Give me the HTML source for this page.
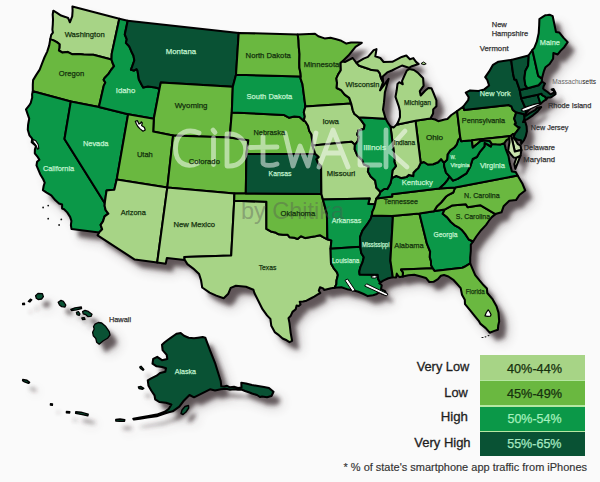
<!DOCTYPE html>
<html><head><meta charset="utf-8"><style>
html,body{margin:0;padding:0;background:#fafafa;}
body{width:600px;height:482px;overflow:hidden;position:relative;font-family:"Liberation Sans",sans-serif;}
svg{position:absolute;left:0;top:0;}
</style></head><body>
<svg width="600" height="482" viewBox="0 0 600 482">
<defs><filter id="sh" x="-10%" y="-10%" width="130%" height="130%"><feGaussianBlur stdDeviation="2.3"/></filter>
<filter id="sh2" x="-10%" y="-10%" width="130%" height="130%"><feGaussianBlur stdDeviation="6"/></filter></defs>
<g filter="url(#sh2)" transform="translate(9,10)" fill="#3a2e30" opacity="0.3"><path d="M72.4,6.4L119.3,18.7L111.7,53.9L111.5,59.6L93.3,54.8L89.3,54.7L83.7,54.6L78.1,54.1L72.4,54.3L67.5,51.9L62.5,52.6L58.9,50.5L59.4,47.6L59.5,44.2L57.2,42.4L54.1,40.6L50.3,39.1L51.2,34.9L52.9,32.6L52.4,29.7L52.8,24.3L53.0,19.4L52.7,14.5L53.3,10.7L56.6,12.6L61.1,15.6L65.3,16.9L68.1,18.0L68.9,19.9L69.9,22.3L72.2,16.4L72.6,10.7L72.4,6.4Z M50.3,39.1L54.1,40.6L57.2,42.4L59.5,44.2L59.4,47.6L58.9,50.5L62.5,52.6L67.5,51.9L72.4,54.3L78.1,54.1L83.7,54.6L89.3,54.7L93.3,54.8L111.5,59.6L112.7,63.2L114.1,66.2L111.0,70.0L108.5,73.9L104.6,78.0L103.6,79.7L105.3,82.6L103.7,85.9L98.9,107.0L70.8,101.6L32.8,91.2L32.8,84.7L33.1,80.1L36.1,75.1L39.7,69.6L42.0,63.6L44.4,57.5L47.2,51.6L49.2,45.4L50.3,39.1Z M32.8,91.2L70.8,101.6L64.5,139.0L104.8,203.2L104.6,205.8L105.6,210.0L108.3,213.7L104.6,216.4L103.0,221.4L100.6,224.9L102.2,229.3L99.2,232.4L71.5,229.1L70.9,225.1L71.4,220.9L70.1,216.9L67.2,212.4L64.1,209.2L62.1,208.5L62.1,204.4L59.0,203.5L55.4,200.3L51.3,195.3L46.6,192.6L42.9,190.2L43.7,185.8L44.7,182.7L43.1,179.0L40.2,174.2L36.5,165.4L37.1,161.7L39.4,159.8L38.0,157.4L34.8,153.4L34.9,149.6L36.0,146.1L34.3,144.4L31.7,142.3L32.2,138.7L29.4,135.3L27.8,129.7L28.1,124.7L29.2,118.6L27.7,114.3L26.0,109.4L29.0,105.7L30.7,103.0L32.2,97.6L32.1,94.3L32.8,91.2Z M70.8,101.6L98.9,107.0L128.1,114.3L116.7,179.6L114.3,189.8L110.4,190.1L106.6,190.5L105.8,195.6L105.1,200.7L104.8,203.2L64.5,139.0L70.8,101.6Z M119.3,18.7L127.7,20.7L124.8,34.5L126.8,39.3L125.9,42.9L129.1,46.2L131.3,51.2L133.5,55.7L134.3,60.5L132.3,66.2L130.9,69.8L133.9,70.6L136.5,69.1L137.5,70.7L138.9,79.5L141.5,84.5L143.2,87.4L148.0,86.4L155.3,87.6L159.5,88.8L153.8,118.8L128.1,114.3L98.9,107.0L103.7,85.9L105.3,82.6L103.6,79.7L104.6,78.0L108.5,73.9L111.0,70.0L114.1,66.2L112.7,63.2L111.5,59.6L111.7,53.9L119.3,18.7Z M127.7,20.7L238.7,32.9L236.0,74.7L232.8,86.8L160.8,82.6L159.5,88.8L155.3,87.6L148.0,86.4L143.2,87.4L141.5,84.5L138.9,79.5L137.5,70.7L136.5,69.1L133.9,70.6L130.9,69.8L132.3,66.2L134.3,60.5L133.5,55.7L131.3,51.2L129.1,46.2L125.9,42.9L126.8,39.3L124.8,34.5L127.7,20.7Z M159.5,88.8L160.8,82.6L232.8,86.8L231.8,112.4L229.7,137.6L173.1,135.5L153.2,131.5L153.8,118.8L159.5,88.8Z M128.1,114.3L153.8,118.8L153.2,131.5L173.1,135.5L167.3,187.6L116.7,179.6L128.1,114.3Z M173.1,135.5L229.7,137.6L248.3,140.2L246.4,154.0L245.8,193.4L234.4,193.4L167.3,187.6L173.1,135.5Z M116.7,179.6L167.3,187.6L157.2,262.5L134.8,259.6L97.6,235.3L99.2,232.4L102.2,229.3L100.6,224.9L103.0,221.4L104.6,216.4L108.3,213.7L105.6,210.0L104.6,205.8L104.8,203.2L105.1,200.7L105.8,195.6L106.6,190.5L110.4,190.1L114.3,189.8L116.7,179.6Z M167.3,187.6L234.4,193.4L234.2,200.7L231.2,255.5L184.4,257.0L184.7,259.9L166.9,258.0L165.7,263.8L157.2,262.5L167.3,187.6Z M234.2,200.7L266.4,201.7L266.4,228.9L270.8,231.4L275.2,232.4L278.6,234.3L283.0,234.8L287.5,234.7L289.7,237.3L294.2,237.8L297.6,239.0L300.9,236.2L305.4,238.1L311.0,237.1L315.5,236.2L319.9,235.2L323.1,237.2L327.4,239.3L331.4,240.4L330.6,248.7L331.0,263.4L333.6,268.1L337.0,272.4L337.9,275.0L336.5,280.6L336.4,284.1L334.6,287.8L331.2,288.3L324.1,290.0L323.1,288.4L320.0,287.3L318.8,290.7L320.3,293.0L318.2,294.2L314.2,296.7L311.6,298.0L306.5,300.7L303.0,301.5L299.7,301.8L300.5,304.4L298.7,306.0L296.6,305.5L295.7,309.2L292.5,311.9L290.8,315.7L288.5,318.1L289.5,323.1L290.7,333.1L292.1,340.8L289.5,342.1L286.7,340.3L282.6,338.5L278.1,334.6L274.7,332.1L271.3,325.8L270.4,318.9L267.0,315.4L262.5,309.2L259.0,302.3L254.5,293.3L253.4,289.8L246.0,286.8L235.9,285.8L230.7,287.9L228.3,293.7L223.7,298.2L216.3,295.6L209.6,292.6L202.2,287.5L201.1,280.5L199.1,274.0L193.3,268.6L187.4,264.1L184.7,259.9L184.4,257.0L231.2,255.5L234.2,200.7Z M234.4,193.4L245.8,193.4L321.4,193.9L322.9,199.6L326.9,213.9L327.4,239.3L323.1,237.2L319.9,235.2L315.5,236.2L311.0,237.1L305.4,238.1L300.9,236.2L297.6,239.0L294.2,237.8L289.7,237.3L287.5,234.7L283.0,234.8L278.6,234.3L275.2,232.4L270.8,231.4L266.4,228.9L266.4,201.7L234.2,200.7L234.4,193.4Z M246.4,154.0L315.2,153.7L318.7,157.0L316.5,159.3L318.2,163.3L321.1,165.9L321.4,193.9L245.8,193.4L246.4,154.0Z M231.8,112.4L283.7,114.9L288.9,117.7L294.3,116.5L299.5,117.1L303.7,120.8L305.2,121.3L308.0,125.7L309.3,130.9L311.5,134.6L312.1,139.9L312.5,145.5L313.8,149.5L315.2,153.7L246.4,154.0L248.3,140.2L229.7,137.6L231.8,112.4Z M236.0,74.7L300.8,76.6L300.5,78.4L302.5,84.4L305.4,106.5L303.8,112.2L304.8,116.4L303.7,120.8L299.5,117.1L294.3,116.5L288.9,117.7L283.7,114.9L231.8,112.4L232.8,86.8L236.0,74.7Z M238.7,32.9L297.7,34.5L298.5,40.1L298.8,47.1L299.5,54.1L299.3,62.4L299.4,67.9L300.5,73.2L300.8,76.6L236.0,74.7L238.7,32.9Z M297.7,34.5L315.0,33.7L318.3,36.2L324.6,38.4L330.5,37.8L336.3,39.3L341.3,40.8L346.4,43.6L351.1,42.5L357.6,42.5L361.8,42.8L355.5,46.8L348.4,55.6L342.3,61.5L340.6,63.0L340.8,70.3L338.2,74.4L336.4,78.4L337.0,82.9L336.7,88.0L341.1,90.2L344.7,94.6L349.2,97.8L351.2,103.6L305.4,106.5L302.5,84.4L300.5,78.4L300.8,76.6L300.5,73.2L299.4,67.9L299.3,62.4L299.5,54.1L298.8,47.1L298.5,40.1L297.7,34.5Z M305.4,106.5L351.2,103.6L352.8,110.3L354.2,113.7L358.6,117.3L361.4,120.6L364.6,125.2L363.9,128.9L358.4,130.6L357.1,134.5L358.8,137.1L357.8,141.0L354.9,144.8L351.6,141.8L312.5,145.5L312.1,139.9L311.5,134.6L309.3,130.9L308.0,125.7L305.2,121.3L303.7,120.8L304.8,116.4L303.8,112.2L305.4,106.5Z M312.5,145.5L351.6,141.8L354.9,144.8L354.7,149.4L357.4,155.6L362.3,160.3L363.9,164.5L368.8,166.4L367.9,171.5L370.7,176.4L375.1,180.4L376.4,187.8L380.3,191.8L379.7,194.6L376.4,198.6L375.6,201.5L375.1,204.2L368.2,204.0L369.7,198.4L322.9,199.6L321.4,193.9L321.1,165.9L318.2,163.3L316.5,159.3L318.7,157.0L315.2,153.7L313.8,149.5L312.5,145.5Z M322.9,199.6L369.7,198.4L368.2,204.0L375.1,204.2L373.9,208.4L372.4,211.7L371.8,215.4L370.7,218.8L367.3,224.2L362.5,230.7L360.0,237.2L360.2,246.7L330.6,248.7L331.4,240.4L327.4,239.3L326.9,213.9L322.9,199.6Z M330.6,248.7L360.2,246.7L361.2,252.9L363.8,257.3L362.5,262.4L360.4,267.2L359.3,271.6L359.6,274.5L377.7,274.7L378.1,278.9L380.3,282.6L379.3,283.3L381.7,285.3L381.0,289.2L385.0,291.2L386.4,294.4L382.5,293.9L379.2,292.2L376.2,294.3L373.0,295.2L367.8,296.1L363.6,294.0L358.3,291.7L353.9,290.4L348.3,289.6L341.4,287.3L334.6,287.8L336.4,284.1L336.5,280.6L337.9,275.0L337.0,272.4L333.6,268.1L331.0,263.4L330.6,248.7Z M371.8,215.4L391.8,216.0L392.9,217.3L390.4,260.5L392.8,277.2L388.4,278.2L383.2,280.6L380.3,282.6L378.1,278.9L377.7,274.7L359.6,274.5L359.3,271.6L360.4,267.2L362.5,262.4L363.8,257.3L361.2,252.9L360.2,246.7L360.0,237.2L362.5,230.7L367.3,224.2L370.7,218.8L371.8,215.4Z M391.8,216.0L419.4,213.5L426.9,243.7L430.1,251.5L429.8,257.2L431.0,261.1L431.0,264.9L432.7,268.3L401.0,269.6L403.0,272.4L402.8,276.6L400.0,277.1L398.2,276.1L396.8,273.7L396.1,277.4L392.8,277.2L390.4,260.5L392.9,217.3L391.8,216.0Z M419.4,213.5L433.9,211.3L444.6,209.6L442.7,213.8L447.2,217.4L450.9,222.0L454.4,225.1L458.5,227.3L461.6,229.7L465.1,233.9L468.8,239.5L473.1,241.5L470.8,244.6L470.8,250.9L470.2,257.4L470.2,263.3L464.5,266.8L462.4,267.8L434.5,270.9L432.7,268.3L431.0,264.9L431.0,261.1L429.8,257.2L430.1,251.5L426.9,243.7L419.4,213.5Z M401.0,269.6L432.7,268.3L434.5,270.9L462.4,267.8L464.5,266.8L470.2,263.3L472.5,268.8L475.2,275.1L479.5,280.4L483.7,285.3L486.9,288.5L487.3,293.0L492.3,298.8L496.5,306.2L498.5,312.6L499.2,321.3L498.2,325.6L497.9,329.7L494.4,330.9L489.7,332.7L485.7,328.1L480.5,323.9L478.7,320.8L474.6,315.8L470.6,310.9L465.0,304.2L464.8,299.7L462.0,294.8L460.7,288.1L456.9,283.8L453.7,280.2L448.4,276.5L444.0,275.1L440.9,275.8L437.9,279.1L433.5,281.8L429.3,282.0L425.9,277.9L420.8,276.4L414.3,274.7L408.4,275.2L402.8,276.6L403.0,272.4L401.0,269.6Z M495.4,214.1L480.2,205.2L467.7,207.3L465.8,204.2L451.9,205.6L444.6,209.6L442.7,213.8L447.2,217.4L450.9,222.0L454.4,225.1L458.5,227.3L461.6,229.7L465.1,233.9L468.8,239.5L473.1,241.5L476.3,236.5L481.1,230.2L486.1,224.9L488.9,220.7L491.8,217.1L495.4,214.1Z M517.6,175.5L455.1,187.5L453.3,192.5L448.5,194.9L446.1,196.5L441.1,202.5L436.8,206.6L433.9,211.3L444.6,209.6L451.9,205.6L465.8,204.2L467.7,207.3L480.2,205.2L495.4,214.1L501.5,212.3L503.6,206.3L509.3,200.8L516.0,200.1L519.4,195.0L525.2,190.5L522.6,184.1L517.6,175.5Z M376.4,198.6L392.2,196.6L392.1,194.2L439.3,188.6L455.1,187.5L453.3,192.5L448.5,194.9L446.1,196.5L441.1,202.5L436.8,206.6L433.9,211.3L419.4,213.5L391.8,216.0L371.8,215.4L372.4,211.7L373.9,208.4L375.1,204.2L375.6,201.5L376.4,198.6Z M439.3,188.6L392.1,194.2L392.2,196.6L376.4,198.6L379.7,194.6L380.3,191.8L384.1,189.0L387.3,189.1L390.4,183.4L391.7,178.1L396.2,176.0L401.5,178.1L406.4,177.1L409.0,174.9L413.2,176.1L413.4,172.8L416.5,169.5L418.1,168.3L420.7,163.0L423.9,162.0L427.8,164.5L433.2,164.3L438.1,162.2L441.1,159.1L444.0,162.8L444.2,166.3L446.0,172.6L449.7,176.6L447.7,179.8L444.3,184.1L439.3,188.6Z M517.6,175.5L455.1,187.5L439.3,188.6L444.3,184.1L447.7,179.8L449.7,176.6L453.0,180.6L457.7,178.9L466.5,173.3L470.2,166.8L472.7,159.0L476.9,157.0L480.1,151.6L484.5,146.3L484.6,142.9L490.9,146.5L491.7,143.9L496.4,144.3L500.7,144.4L504.3,143.2L505.7,148.8L508.5,156.1L509.8,163.6L511.9,171.6L515.7,172.1L517.6,175.5Z M449.7,176.6L446.0,172.6L444.2,166.3L444.0,162.8L447.1,159.6L447.5,154.5L450.3,150.4L454.3,147.5L456.8,144.3L458.2,140.0L460.3,137.8L461.2,141.2L471.9,140.3L472.8,147.4L477.5,143.5L480.0,141.3L484.3,140.2L489.9,141.1L491.7,143.9L490.9,146.5L484.6,142.9L484.5,146.3L480.1,151.6L476.9,157.0L472.7,159.0L470.2,166.8L466.5,173.3L457.7,178.9L453.0,180.6L449.7,176.6Z M460.3,137.8L458.2,140.0L456.8,144.3L454.3,147.5L450.3,150.4L447.5,154.5L447.1,159.6L444.0,162.8L441.1,159.1L438.1,162.2L433.2,164.3L427.8,164.5L423.9,162.0L420.7,163.0L415.5,120.8L430.4,118.4L435.1,119.5L438.2,121.2L444.6,119.4L447.4,119.0L451.4,115.0L457.1,111.1L460.3,137.8Z M396.6,124.8L393.6,127.4L390.5,126.6L394.6,158.3L394.3,161.6L395.9,166.1L392.5,170.3L391.7,178.1L396.2,176.0L401.5,178.1L406.4,177.1L409.0,174.9L413.2,176.1L413.4,172.8L416.5,169.5L418.1,168.3L420.7,163.0L415.5,120.8L396.6,124.8Z M358.6,117.3L385.6,118.8L388.4,123.7L390.5,126.6L394.6,158.3L394.3,161.6L395.9,166.1L392.5,170.3L391.7,178.1L390.4,183.4L387.3,189.1L384.1,189.0L380.3,191.8L376.4,187.8L375.1,180.4L370.7,176.4L367.9,171.5L368.8,166.4L363.9,164.5L362.3,160.3L357.4,155.6L354.7,149.4L354.9,144.8L357.8,141.0L358.8,137.1L357.1,134.5L358.4,130.6L363.9,128.9L364.6,125.2L361.4,120.6L358.6,117.3Z M336.7,88.0L337.0,82.9L336.4,78.4L338.2,74.4L340.8,70.3L340.6,63.0L342.3,61.5L344.9,62.0L349.6,59.6L352.7,58.0L356.4,62.9L359.2,65.8L368.2,68.8L371.9,70.1L377.6,70.4L379.7,73.1L381.0,78.1L383.1,82.2L380.0,90.4L383.4,85.8L388.6,78.8L384.9,92.2L384.0,102.4L383.0,109.6L385.6,118.8L358.6,117.3L354.2,113.7L352.8,110.3L351.2,103.6L349.2,97.8L344.7,94.6L341.1,90.2L336.7,88.0Z M396.6,124.8L415.5,120.8L430.4,118.4L433.1,113.5L433.2,109.4L436.4,106.2L436.4,100.3L433.5,93.0L431.4,88.2L428.4,88.0L425.1,90.7L420.7,95.5L419.8,91.2L423.6,85.9L423.1,78.1L421.5,76.5L417.7,72.6L413.9,70.0L409.1,69.1L406.8,70.6L404.0,76.6L402.0,81.1L402.8,84.3L399.3,82.2L397.5,83.9L396.7,90.3L395.5,96.8L398.7,106.1L399.9,110.9L400.0,117.2L398.1,122.1L396.6,124.8Z M356.4,62.9L359.2,65.8L368.2,68.8L371.9,70.1L377.6,70.4L379.7,73.1L381.0,78.1L383.1,82.2L382.7,76.5L387.2,72.4L391.9,70.5L395.6,68.6L402.0,65.6L408.9,67.8L411.9,66.2L418.7,64.1L416.0,61.9L413.3,58.1L409.9,59.3L406.3,55.5L401.7,56.9L392.3,61.8L383.6,62.0L380.3,58.0L375.3,56.3L376.5,49.1L373.7,50.1L371.2,53.1L367.9,56.9L363.6,58.6L356.4,62.9Z M457.1,111.1L463.3,106.5L464.2,110.1L508.8,105.1L511.5,106.5L512.8,109.9L516.2,112.5L514.2,118.6L515.9,123.2L514.7,124.2L517.6,126.7L519.7,127.4L517.8,130.0L516.7,131.6L514.5,134.1L512.8,134.1L511.2,135.8L471.9,140.3L461.2,141.2L460.3,137.8L457.1,111.1Z M516.2,112.5L512.8,109.9L511.5,106.5L508.8,105.1L464.2,110.1L463.3,106.5L468.2,100.1L468.7,97.2L465.8,92.7L470.1,90.4L478.5,91.0L484.3,89.4L489.1,85.5L487.2,79.8L485.2,77.2L489.2,71.4L493.0,64.8L498.4,61.7L511.2,59.9L512.1,66.9L513.1,73.9L514.4,79.4L516.2,79.7L519.7,89.9L521.2,98.3L526.2,110.0L525.8,113.4L525.7,115.8L529.2,113.3L535.1,110.2L537.3,107.8L541.2,107.1L537.6,111.4L532.9,115.3L526.9,119.4L524.8,120.4L524.1,119.5L524.3,118.7L524.3,117.2L523.8,114.3L516.2,112.5Z M516.2,112.5L523.8,114.3L524.3,117.2L524.3,118.7L523.9,120.3L523.0,122.1L525.3,122.0L526.6,126.5L526.9,131.3L525.7,136.4L524.0,140.2L521.2,143.8L521.0,140.3L517.8,139.8L514.5,138.0L513.7,136.9L514.5,134.1L516.7,131.6L517.8,130.0L519.7,127.4L517.6,126.7L514.7,124.2L515.9,123.2L514.2,118.6L516.2,112.5Z M511.2,135.8L512.8,134.1L514.5,134.1L513.7,136.9L514.1,138.7L516.0,140.9L517.6,143.8L520.5,145.7L521.4,150.1L514.8,151.6L511.2,135.8Z M520.5,155.7L517.5,163.3L515.3,168.9L514.3,164.0L516.4,157.7L520.5,155.7Z M521.2,98.3L537.6,94.8L540.5,103.7L536.4,105.4L531.0,107.5L528.9,109.8L525.8,113.4L526.2,110.0L521.2,98.3Z M537.6,94.8L541.5,93.7L542.1,95.2L545.4,96.9L546.2,99.4L544.0,100.8L540.5,103.7L537.6,94.8Z M519.7,89.9L527.6,88.3L538.5,85.2L541.9,81.5L545.0,83.6L543.6,86.2L543.1,88.6L544.1,89.6L547.6,92.0L550.6,94.5L554.3,92.4L553.6,90.5L551.6,89.5L553.5,89.1L555.5,92.7L555.5,94.2L551.6,97.0L550.3,97.4L547.8,97.5L546.2,99.4L545.4,96.9L542.1,95.2L541.5,93.7L537.6,94.8L521.2,98.3L519.7,89.9Z M519.7,89.9L527.6,88.3L525.3,85.2L524.4,78.4L525.3,71.0L528.1,65.8L528.7,57.0L528.5,55.5L511.2,59.9L512.1,66.9L513.1,73.9L514.4,79.4L516.2,79.7L519.7,89.9Z M527.6,88.3L538.5,85.2L541.9,81.5L541.9,78.6L538.2,75.9L532.4,50.0L528.5,55.5L528.7,57.0L528.1,65.8L525.3,71.0L524.4,78.4L525.3,85.2L527.6,88.3Z M541.9,78.6L544.0,70.8L545.5,67.2L549.6,64.0L553.1,58.7L553.4,53.1L557.7,54.4L560.5,50.9L564.2,47.2L567.7,42.1L563.6,37.9L559.2,32.4L556.0,32.1L552.7,16.2L550.0,14.8L547.5,15.1L545.1,15.3L542.7,16.8L539.4,19.0L539.2,25.0L538.7,33.2L536.8,41.7L534.3,47.8L532.4,50.0L538.2,75.9L541.9,78.6Z M471.9,140.3L509.1,136.3L509.4,138.4L506.5,140.2L504.3,143.2L500.7,144.4L496.4,144.3L491.7,143.9L489.9,141.1L484.3,140.2L480.0,141.3L477.5,143.5L472.8,147.4L471.9,140.3Z M509.1,136.3L511.2,135.8L514.8,151.6L521.4,150.1L520.5,155.7L516.4,157.7L513.7,157.6L510.9,154.3L508.2,150.9L508.7,147.0L509.5,142.3L509.4,138.4L509.1,136.3Z"/><path d="M162.0,344.7L164.7,342.3L170.0,338.3L174.7,335.0L176.7,333.7L180.7,333.0L184.0,335.7L188.7,337.7L194.0,338.3L198.0,337.7L202.7,337.0L205.3,337.7L210.0,350.3L215.3,363.7L220.7,381.0L221.3,386.3L224.0,386.6L227.0,385.8L230.0,387.3L234.0,386.8L238.0,388.0L241.5,387.6L241.3,382.8L246.0,383.5L252.0,385.0L258.0,386.0L264.0,387.0L269.0,388.0L273.5,391.8L271.5,396.0L267.0,397.2L262.0,396.5L260.0,397.0L257.0,395.0L252.0,393.5L249.5,392.5L245.0,391.0L242.0,389.8L238.0,389.8L234.0,389.3L230.0,389.8L226.0,388.8L221.0,389.3L215.0,390.5L210.0,389.3L202.0,393.3L194.0,397.3L189.5,395.0L186.0,398.5L183.3,401.3L179.3,406.7L172.7,411.3L168.7,412.3L164.7,413.6L156.7,416.2L147.3,417.6L140.0,418.8L134.0,419.6L133.3,418.8L140.0,417.6L147.3,416.2L156.7,414.6L164.7,411.8L168.5,409.2L171.4,404.5L166.0,402.7L159.3,402.0L155.2,399.3L154.5,395.3L151.2,390.5L148.5,385.8L147.8,380.4L151.2,378.4L156.6,375.7L160.0,373.0L165.3,371.7L166.0,368.3L162.0,367.0L156.6,366.3L152.5,363.6L153.2,358.9L157.2,356.8L162.0,360.2L167.3,358.9L166.7,354.8L162.6,350.1Z"/>
<path d="M139.7,367.0L141.0,366.3L143.8,369.5L143.0,370.3L140.5,368.5Z"/>
<path d="M138.4,387.0L141.0,386.5L143.8,388.3L142.5,389.2L139.0,388.5Z"/>
<path d="M182.0,410.0L185.0,406.5L188.5,405.5L188.7,408.0L186.0,412.0L183.0,414.5L181.0,413.5Z"/>
<path d="M22.8,379.4L27.0,380.2L29.6,382.4L28.5,383.4L24.5,381.8L22.6,380.6Z"/>
<path d="M50.5,403.8L52.5,404.0L52.3,405.3L50.4,405.0Z"/>
<path d="M66.5,411.4L69.8,411.6L69.6,413.0L66.4,412.7Z"/>
<path d="M75.8,411.8L81.0,412.2L88.2,414.2L87.8,415.7L81.0,414.4L75.6,413.4Z"/>
<path d="M115.8,419.5L120.0,419.0L124.8,419.6L124.5,421.2L120.0,421.3L115.8,421.0Z"/>
<path d="M22.6,303.3L24.4,303.2L24.6,304.5L22.7,304.6Z"/>
<path d="M28.3,301.5L30.4,299.2L31.8,299.8L29.8,302.0Z"/>
<path d="M35.6,295.8L38.0,293.4L42.4,293.6L43.4,296.6L41.6,299.0L38.2,299.6L36.3,298.2Z"/>
<path d="M58.2,302.3L61.0,300.4L63.4,301.4L65.8,305.0L65.0,307.0L61.7,306.7L59.5,305.0Z"/>
<path d="M70.8,309.4L75.0,307.8L81.3,307.0L81.6,308.5L76.5,309.9L71.5,310.5Z"/>
<path d="M76.4,312.4L78.4,311.6L80.0,314.0L79.2,315.3L77.0,314.6Z"/>
<path d="M81.8,318.0L84.2,317.6L85.0,319.3L82.6,319.6Z"/>
<path d="M82.6,311.6L85.0,310.3L88.3,311.4L92.0,314.2L91.0,316.4L88.0,316.7L85.8,314.7L83.2,313.8Z"/>
<path d="M95.0,324.2L98.3,322.5L101.7,323.0L105.8,326.6L109.2,331.6L110.0,335.0L107.5,338.3L103.3,340.8L99.2,344.2L96.7,342.3L95.8,338.5L93.3,335.8L92.6,332.2L94.2,329.0L93.5,326.5Z"/></g>
<g filter="url(#sh)" transform="translate(7,8)" fill="#3a2e30" opacity="0.72"><path d="M72.4,6.4L119.3,18.7L111.7,53.9L111.5,59.6L93.3,54.8L89.3,54.7L83.7,54.6L78.1,54.1L72.4,54.3L67.5,51.9L62.5,52.6L58.9,50.5L59.4,47.6L59.5,44.2L57.2,42.4L54.1,40.6L50.3,39.1L51.2,34.9L52.9,32.6L52.4,29.7L52.8,24.3L53.0,19.4L52.7,14.5L53.3,10.7L56.6,12.6L61.1,15.6L65.3,16.9L68.1,18.0L68.9,19.9L69.9,22.3L72.2,16.4L72.6,10.7L72.4,6.4Z M50.3,39.1L54.1,40.6L57.2,42.4L59.5,44.2L59.4,47.6L58.9,50.5L62.5,52.6L67.5,51.9L72.4,54.3L78.1,54.1L83.7,54.6L89.3,54.7L93.3,54.8L111.5,59.6L112.7,63.2L114.1,66.2L111.0,70.0L108.5,73.9L104.6,78.0L103.6,79.7L105.3,82.6L103.7,85.9L98.9,107.0L70.8,101.6L32.8,91.2L32.8,84.7L33.1,80.1L36.1,75.1L39.7,69.6L42.0,63.6L44.4,57.5L47.2,51.6L49.2,45.4L50.3,39.1Z M32.8,91.2L70.8,101.6L64.5,139.0L104.8,203.2L104.6,205.8L105.6,210.0L108.3,213.7L104.6,216.4L103.0,221.4L100.6,224.9L102.2,229.3L99.2,232.4L71.5,229.1L70.9,225.1L71.4,220.9L70.1,216.9L67.2,212.4L64.1,209.2L62.1,208.5L62.1,204.4L59.0,203.5L55.4,200.3L51.3,195.3L46.6,192.6L42.9,190.2L43.7,185.8L44.7,182.7L43.1,179.0L40.2,174.2L36.5,165.4L37.1,161.7L39.4,159.8L38.0,157.4L34.8,153.4L34.9,149.6L36.0,146.1L34.3,144.4L31.7,142.3L32.2,138.7L29.4,135.3L27.8,129.7L28.1,124.7L29.2,118.6L27.7,114.3L26.0,109.4L29.0,105.7L30.7,103.0L32.2,97.6L32.1,94.3L32.8,91.2Z M70.8,101.6L98.9,107.0L128.1,114.3L116.7,179.6L114.3,189.8L110.4,190.1L106.6,190.5L105.8,195.6L105.1,200.7L104.8,203.2L64.5,139.0L70.8,101.6Z M119.3,18.7L127.7,20.7L124.8,34.5L126.8,39.3L125.9,42.9L129.1,46.2L131.3,51.2L133.5,55.7L134.3,60.5L132.3,66.2L130.9,69.8L133.9,70.6L136.5,69.1L137.5,70.7L138.9,79.5L141.5,84.5L143.2,87.4L148.0,86.4L155.3,87.6L159.5,88.8L153.8,118.8L128.1,114.3L98.9,107.0L103.7,85.9L105.3,82.6L103.6,79.7L104.6,78.0L108.5,73.9L111.0,70.0L114.1,66.2L112.7,63.2L111.5,59.6L111.7,53.9L119.3,18.7Z M127.7,20.7L238.7,32.9L236.0,74.7L232.8,86.8L160.8,82.6L159.5,88.8L155.3,87.6L148.0,86.4L143.2,87.4L141.5,84.5L138.9,79.5L137.5,70.7L136.5,69.1L133.9,70.6L130.9,69.8L132.3,66.2L134.3,60.5L133.5,55.7L131.3,51.2L129.1,46.2L125.9,42.9L126.8,39.3L124.8,34.5L127.7,20.7Z M159.5,88.8L160.8,82.6L232.8,86.8L231.8,112.4L229.7,137.6L173.1,135.5L153.2,131.5L153.8,118.8L159.5,88.8Z M128.1,114.3L153.8,118.8L153.2,131.5L173.1,135.5L167.3,187.6L116.7,179.6L128.1,114.3Z M173.1,135.5L229.7,137.6L248.3,140.2L246.4,154.0L245.8,193.4L234.4,193.4L167.3,187.6L173.1,135.5Z M116.7,179.6L167.3,187.6L157.2,262.5L134.8,259.6L97.6,235.3L99.2,232.4L102.2,229.3L100.6,224.9L103.0,221.4L104.6,216.4L108.3,213.7L105.6,210.0L104.6,205.8L104.8,203.2L105.1,200.7L105.8,195.6L106.6,190.5L110.4,190.1L114.3,189.8L116.7,179.6Z M167.3,187.6L234.4,193.4L234.2,200.7L231.2,255.5L184.4,257.0L184.7,259.9L166.9,258.0L165.7,263.8L157.2,262.5L167.3,187.6Z M234.2,200.7L266.4,201.7L266.4,228.9L270.8,231.4L275.2,232.4L278.6,234.3L283.0,234.8L287.5,234.7L289.7,237.3L294.2,237.8L297.6,239.0L300.9,236.2L305.4,238.1L311.0,237.1L315.5,236.2L319.9,235.2L323.1,237.2L327.4,239.3L331.4,240.4L330.6,248.7L331.0,263.4L333.6,268.1L337.0,272.4L337.9,275.0L336.5,280.6L336.4,284.1L334.6,287.8L331.2,288.3L324.1,290.0L323.1,288.4L320.0,287.3L318.8,290.7L320.3,293.0L318.2,294.2L314.2,296.7L311.6,298.0L306.5,300.7L303.0,301.5L299.7,301.8L300.5,304.4L298.7,306.0L296.6,305.5L295.7,309.2L292.5,311.9L290.8,315.7L288.5,318.1L289.5,323.1L290.7,333.1L292.1,340.8L289.5,342.1L286.7,340.3L282.6,338.5L278.1,334.6L274.7,332.1L271.3,325.8L270.4,318.9L267.0,315.4L262.5,309.2L259.0,302.3L254.5,293.3L253.4,289.8L246.0,286.8L235.9,285.8L230.7,287.9L228.3,293.7L223.7,298.2L216.3,295.6L209.6,292.6L202.2,287.5L201.1,280.5L199.1,274.0L193.3,268.6L187.4,264.1L184.7,259.9L184.4,257.0L231.2,255.5L234.2,200.7Z M234.4,193.4L245.8,193.4L321.4,193.9L322.9,199.6L326.9,213.9L327.4,239.3L323.1,237.2L319.9,235.2L315.5,236.2L311.0,237.1L305.4,238.1L300.9,236.2L297.6,239.0L294.2,237.8L289.7,237.3L287.5,234.7L283.0,234.8L278.6,234.3L275.2,232.4L270.8,231.4L266.4,228.9L266.4,201.7L234.2,200.7L234.4,193.4Z M246.4,154.0L315.2,153.7L318.7,157.0L316.5,159.3L318.2,163.3L321.1,165.9L321.4,193.9L245.8,193.4L246.4,154.0Z M231.8,112.4L283.7,114.9L288.9,117.7L294.3,116.5L299.5,117.1L303.7,120.8L305.2,121.3L308.0,125.7L309.3,130.9L311.5,134.6L312.1,139.9L312.5,145.5L313.8,149.5L315.2,153.7L246.4,154.0L248.3,140.2L229.7,137.6L231.8,112.4Z M236.0,74.7L300.8,76.6L300.5,78.4L302.5,84.4L305.4,106.5L303.8,112.2L304.8,116.4L303.7,120.8L299.5,117.1L294.3,116.5L288.9,117.7L283.7,114.9L231.8,112.4L232.8,86.8L236.0,74.7Z M238.7,32.9L297.7,34.5L298.5,40.1L298.8,47.1L299.5,54.1L299.3,62.4L299.4,67.9L300.5,73.2L300.8,76.6L236.0,74.7L238.7,32.9Z M297.7,34.5L315.0,33.7L318.3,36.2L324.6,38.4L330.5,37.8L336.3,39.3L341.3,40.8L346.4,43.6L351.1,42.5L357.6,42.5L361.8,42.8L355.5,46.8L348.4,55.6L342.3,61.5L340.6,63.0L340.8,70.3L338.2,74.4L336.4,78.4L337.0,82.9L336.7,88.0L341.1,90.2L344.7,94.6L349.2,97.8L351.2,103.6L305.4,106.5L302.5,84.4L300.5,78.4L300.8,76.6L300.5,73.2L299.4,67.9L299.3,62.4L299.5,54.1L298.8,47.1L298.5,40.1L297.7,34.5Z M305.4,106.5L351.2,103.6L352.8,110.3L354.2,113.7L358.6,117.3L361.4,120.6L364.6,125.2L363.9,128.9L358.4,130.6L357.1,134.5L358.8,137.1L357.8,141.0L354.9,144.8L351.6,141.8L312.5,145.5L312.1,139.9L311.5,134.6L309.3,130.9L308.0,125.7L305.2,121.3L303.7,120.8L304.8,116.4L303.8,112.2L305.4,106.5Z M312.5,145.5L351.6,141.8L354.9,144.8L354.7,149.4L357.4,155.6L362.3,160.3L363.9,164.5L368.8,166.4L367.9,171.5L370.7,176.4L375.1,180.4L376.4,187.8L380.3,191.8L379.7,194.6L376.4,198.6L375.6,201.5L375.1,204.2L368.2,204.0L369.7,198.4L322.9,199.6L321.4,193.9L321.1,165.9L318.2,163.3L316.5,159.3L318.7,157.0L315.2,153.7L313.8,149.5L312.5,145.5Z M322.9,199.6L369.7,198.4L368.2,204.0L375.1,204.2L373.9,208.4L372.4,211.7L371.8,215.4L370.7,218.8L367.3,224.2L362.5,230.7L360.0,237.2L360.2,246.7L330.6,248.7L331.4,240.4L327.4,239.3L326.9,213.9L322.9,199.6Z M330.6,248.7L360.2,246.7L361.2,252.9L363.8,257.3L362.5,262.4L360.4,267.2L359.3,271.6L359.6,274.5L377.7,274.7L378.1,278.9L380.3,282.6L379.3,283.3L381.7,285.3L381.0,289.2L385.0,291.2L386.4,294.4L382.5,293.9L379.2,292.2L376.2,294.3L373.0,295.2L367.8,296.1L363.6,294.0L358.3,291.7L353.9,290.4L348.3,289.6L341.4,287.3L334.6,287.8L336.4,284.1L336.5,280.6L337.9,275.0L337.0,272.4L333.6,268.1L331.0,263.4L330.6,248.7Z M371.8,215.4L391.8,216.0L392.9,217.3L390.4,260.5L392.8,277.2L388.4,278.2L383.2,280.6L380.3,282.6L378.1,278.9L377.7,274.7L359.6,274.5L359.3,271.6L360.4,267.2L362.5,262.4L363.8,257.3L361.2,252.9L360.2,246.7L360.0,237.2L362.5,230.7L367.3,224.2L370.7,218.8L371.8,215.4Z M391.8,216.0L419.4,213.5L426.9,243.7L430.1,251.5L429.8,257.2L431.0,261.1L431.0,264.9L432.7,268.3L401.0,269.6L403.0,272.4L402.8,276.6L400.0,277.1L398.2,276.1L396.8,273.7L396.1,277.4L392.8,277.2L390.4,260.5L392.9,217.3L391.8,216.0Z M419.4,213.5L433.9,211.3L444.6,209.6L442.7,213.8L447.2,217.4L450.9,222.0L454.4,225.1L458.5,227.3L461.6,229.7L465.1,233.9L468.8,239.5L473.1,241.5L470.8,244.6L470.8,250.9L470.2,257.4L470.2,263.3L464.5,266.8L462.4,267.8L434.5,270.9L432.7,268.3L431.0,264.9L431.0,261.1L429.8,257.2L430.1,251.5L426.9,243.7L419.4,213.5Z M401.0,269.6L432.7,268.3L434.5,270.9L462.4,267.8L464.5,266.8L470.2,263.3L472.5,268.8L475.2,275.1L479.5,280.4L483.7,285.3L486.9,288.5L487.3,293.0L492.3,298.8L496.5,306.2L498.5,312.6L499.2,321.3L498.2,325.6L497.9,329.7L494.4,330.9L489.7,332.7L485.7,328.1L480.5,323.9L478.7,320.8L474.6,315.8L470.6,310.9L465.0,304.2L464.8,299.7L462.0,294.8L460.7,288.1L456.9,283.8L453.7,280.2L448.4,276.5L444.0,275.1L440.9,275.8L437.9,279.1L433.5,281.8L429.3,282.0L425.9,277.9L420.8,276.4L414.3,274.7L408.4,275.2L402.8,276.6L403.0,272.4L401.0,269.6Z M495.4,214.1L480.2,205.2L467.7,207.3L465.8,204.2L451.9,205.6L444.6,209.6L442.7,213.8L447.2,217.4L450.9,222.0L454.4,225.1L458.5,227.3L461.6,229.7L465.1,233.9L468.8,239.5L473.1,241.5L476.3,236.5L481.1,230.2L486.1,224.9L488.9,220.7L491.8,217.1L495.4,214.1Z M517.6,175.5L455.1,187.5L453.3,192.5L448.5,194.9L446.1,196.5L441.1,202.5L436.8,206.6L433.9,211.3L444.6,209.6L451.9,205.6L465.8,204.2L467.7,207.3L480.2,205.2L495.4,214.1L501.5,212.3L503.6,206.3L509.3,200.8L516.0,200.1L519.4,195.0L525.2,190.5L522.6,184.1L517.6,175.5Z M376.4,198.6L392.2,196.6L392.1,194.2L439.3,188.6L455.1,187.5L453.3,192.5L448.5,194.9L446.1,196.5L441.1,202.5L436.8,206.6L433.9,211.3L419.4,213.5L391.8,216.0L371.8,215.4L372.4,211.7L373.9,208.4L375.1,204.2L375.6,201.5L376.4,198.6Z M439.3,188.6L392.1,194.2L392.2,196.6L376.4,198.6L379.7,194.6L380.3,191.8L384.1,189.0L387.3,189.1L390.4,183.4L391.7,178.1L396.2,176.0L401.5,178.1L406.4,177.1L409.0,174.9L413.2,176.1L413.4,172.8L416.5,169.5L418.1,168.3L420.7,163.0L423.9,162.0L427.8,164.5L433.2,164.3L438.1,162.2L441.1,159.1L444.0,162.8L444.2,166.3L446.0,172.6L449.7,176.6L447.7,179.8L444.3,184.1L439.3,188.6Z M517.6,175.5L455.1,187.5L439.3,188.6L444.3,184.1L447.7,179.8L449.7,176.6L453.0,180.6L457.7,178.9L466.5,173.3L470.2,166.8L472.7,159.0L476.9,157.0L480.1,151.6L484.5,146.3L484.6,142.9L490.9,146.5L491.7,143.9L496.4,144.3L500.7,144.4L504.3,143.2L505.7,148.8L508.5,156.1L509.8,163.6L511.9,171.6L515.7,172.1L517.6,175.5Z M449.7,176.6L446.0,172.6L444.2,166.3L444.0,162.8L447.1,159.6L447.5,154.5L450.3,150.4L454.3,147.5L456.8,144.3L458.2,140.0L460.3,137.8L461.2,141.2L471.9,140.3L472.8,147.4L477.5,143.5L480.0,141.3L484.3,140.2L489.9,141.1L491.7,143.9L490.9,146.5L484.6,142.9L484.5,146.3L480.1,151.6L476.9,157.0L472.7,159.0L470.2,166.8L466.5,173.3L457.7,178.9L453.0,180.6L449.7,176.6Z M460.3,137.8L458.2,140.0L456.8,144.3L454.3,147.5L450.3,150.4L447.5,154.5L447.1,159.6L444.0,162.8L441.1,159.1L438.1,162.2L433.2,164.3L427.8,164.5L423.9,162.0L420.7,163.0L415.5,120.8L430.4,118.4L435.1,119.5L438.2,121.2L444.6,119.4L447.4,119.0L451.4,115.0L457.1,111.1L460.3,137.8Z M396.6,124.8L393.6,127.4L390.5,126.6L394.6,158.3L394.3,161.6L395.9,166.1L392.5,170.3L391.7,178.1L396.2,176.0L401.5,178.1L406.4,177.1L409.0,174.9L413.2,176.1L413.4,172.8L416.5,169.5L418.1,168.3L420.7,163.0L415.5,120.8L396.6,124.8Z M358.6,117.3L385.6,118.8L388.4,123.7L390.5,126.6L394.6,158.3L394.3,161.6L395.9,166.1L392.5,170.3L391.7,178.1L390.4,183.4L387.3,189.1L384.1,189.0L380.3,191.8L376.4,187.8L375.1,180.4L370.7,176.4L367.9,171.5L368.8,166.4L363.9,164.5L362.3,160.3L357.4,155.6L354.7,149.4L354.9,144.8L357.8,141.0L358.8,137.1L357.1,134.5L358.4,130.6L363.9,128.9L364.6,125.2L361.4,120.6L358.6,117.3Z M336.7,88.0L337.0,82.9L336.4,78.4L338.2,74.4L340.8,70.3L340.6,63.0L342.3,61.5L344.9,62.0L349.6,59.6L352.7,58.0L356.4,62.9L359.2,65.8L368.2,68.8L371.9,70.1L377.6,70.4L379.7,73.1L381.0,78.1L383.1,82.2L380.0,90.4L383.4,85.8L388.6,78.8L384.9,92.2L384.0,102.4L383.0,109.6L385.6,118.8L358.6,117.3L354.2,113.7L352.8,110.3L351.2,103.6L349.2,97.8L344.7,94.6L341.1,90.2L336.7,88.0Z M396.6,124.8L415.5,120.8L430.4,118.4L433.1,113.5L433.2,109.4L436.4,106.2L436.4,100.3L433.5,93.0L431.4,88.2L428.4,88.0L425.1,90.7L420.7,95.5L419.8,91.2L423.6,85.9L423.1,78.1L421.5,76.5L417.7,72.6L413.9,70.0L409.1,69.1L406.8,70.6L404.0,76.6L402.0,81.1L402.8,84.3L399.3,82.2L397.5,83.9L396.7,90.3L395.5,96.8L398.7,106.1L399.9,110.9L400.0,117.2L398.1,122.1L396.6,124.8Z M356.4,62.9L359.2,65.8L368.2,68.8L371.9,70.1L377.6,70.4L379.7,73.1L381.0,78.1L383.1,82.2L382.7,76.5L387.2,72.4L391.9,70.5L395.6,68.6L402.0,65.6L408.9,67.8L411.9,66.2L418.7,64.1L416.0,61.9L413.3,58.1L409.9,59.3L406.3,55.5L401.7,56.9L392.3,61.8L383.6,62.0L380.3,58.0L375.3,56.3L376.5,49.1L373.7,50.1L371.2,53.1L367.9,56.9L363.6,58.6L356.4,62.9Z M457.1,111.1L463.3,106.5L464.2,110.1L508.8,105.1L511.5,106.5L512.8,109.9L516.2,112.5L514.2,118.6L515.9,123.2L514.7,124.2L517.6,126.7L519.7,127.4L517.8,130.0L516.7,131.6L514.5,134.1L512.8,134.1L511.2,135.8L471.9,140.3L461.2,141.2L460.3,137.8L457.1,111.1Z M516.2,112.5L512.8,109.9L511.5,106.5L508.8,105.1L464.2,110.1L463.3,106.5L468.2,100.1L468.7,97.2L465.8,92.7L470.1,90.4L478.5,91.0L484.3,89.4L489.1,85.5L487.2,79.8L485.2,77.2L489.2,71.4L493.0,64.8L498.4,61.7L511.2,59.9L512.1,66.9L513.1,73.9L514.4,79.4L516.2,79.7L519.7,89.9L521.2,98.3L526.2,110.0L525.8,113.4L525.7,115.8L529.2,113.3L535.1,110.2L537.3,107.8L541.2,107.1L537.6,111.4L532.9,115.3L526.9,119.4L524.8,120.4L524.1,119.5L524.3,118.7L524.3,117.2L523.8,114.3L516.2,112.5Z M516.2,112.5L523.8,114.3L524.3,117.2L524.3,118.7L523.9,120.3L523.0,122.1L525.3,122.0L526.6,126.5L526.9,131.3L525.7,136.4L524.0,140.2L521.2,143.8L521.0,140.3L517.8,139.8L514.5,138.0L513.7,136.9L514.5,134.1L516.7,131.6L517.8,130.0L519.7,127.4L517.6,126.7L514.7,124.2L515.9,123.2L514.2,118.6L516.2,112.5Z M511.2,135.8L512.8,134.1L514.5,134.1L513.7,136.9L514.1,138.7L516.0,140.9L517.6,143.8L520.5,145.7L521.4,150.1L514.8,151.6L511.2,135.8Z M520.5,155.7L517.5,163.3L515.3,168.9L514.3,164.0L516.4,157.7L520.5,155.7Z M521.2,98.3L537.6,94.8L540.5,103.7L536.4,105.4L531.0,107.5L528.9,109.8L525.8,113.4L526.2,110.0L521.2,98.3Z M537.6,94.8L541.5,93.7L542.1,95.2L545.4,96.9L546.2,99.4L544.0,100.8L540.5,103.7L537.6,94.8Z M519.7,89.9L527.6,88.3L538.5,85.2L541.9,81.5L545.0,83.6L543.6,86.2L543.1,88.6L544.1,89.6L547.6,92.0L550.6,94.5L554.3,92.4L553.6,90.5L551.6,89.5L553.5,89.1L555.5,92.7L555.5,94.2L551.6,97.0L550.3,97.4L547.8,97.5L546.2,99.4L545.4,96.9L542.1,95.2L541.5,93.7L537.6,94.8L521.2,98.3L519.7,89.9Z M519.7,89.9L527.6,88.3L525.3,85.2L524.4,78.4L525.3,71.0L528.1,65.8L528.7,57.0L528.5,55.5L511.2,59.9L512.1,66.9L513.1,73.9L514.4,79.4L516.2,79.7L519.7,89.9Z M527.6,88.3L538.5,85.2L541.9,81.5L541.9,78.6L538.2,75.9L532.4,50.0L528.5,55.5L528.7,57.0L528.1,65.8L525.3,71.0L524.4,78.4L525.3,85.2L527.6,88.3Z M541.9,78.6L544.0,70.8L545.5,67.2L549.6,64.0L553.1,58.7L553.4,53.1L557.7,54.4L560.5,50.9L564.2,47.2L567.7,42.1L563.6,37.9L559.2,32.4L556.0,32.1L552.7,16.2L550.0,14.8L547.5,15.1L545.1,15.3L542.7,16.8L539.4,19.0L539.2,25.0L538.7,33.2L536.8,41.7L534.3,47.8L532.4,50.0L538.2,75.9L541.9,78.6Z M471.9,140.3L509.1,136.3L509.4,138.4L506.5,140.2L504.3,143.2L500.7,144.4L496.4,144.3L491.7,143.9L489.9,141.1L484.3,140.2L480.0,141.3L477.5,143.5L472.8,147.4L471.9,140.3Z M509.1,136.3L511.2,135.8L514.8,151.6L521.4,150.1L520.5,155.7L516.4,157.7L513.7,157.6L510.9,154.3L508.2,150.9L508.7,147.0L509.5,142.3L509.4,138.4L509.1,136.3Z"/><path d="M162.0,344.7L164.7,342.3L170.0,338.3L174.7,335.0L176.7,333.7L180.7,333.0L184.0,335.7L188.7,337.7L194.0,338.3L198.0,337.7L202.7,337.0L205.3,337.7L210.0,350.3L215.3,363.7L220.7,381.0L221.3,386.3L224.0,386.6L227.0,385.8L230.0,387.3L234.0,386.8L238.0,388.0L241.5,387.6L241.3,382.8L246.0,383.5L252.0,385.0L258.0,386.0L264.0,387.0L269.0,388.0L273.5,391.8L271.5,396.0L267.0,397.2L262.0,396.5L260.0,397.0L257.0,395.0L252.0,393.5L249.5,392.5L245.0,391.0L242.0,389.8L238.0,389.8L234.0,389.3L230.0,389.8L226.0,388.8L221.0,389.3L215.0,390.5L210.0,389.3L202.0,393.3L194.0,397.3L189.5,395.0L186.0,398.5L183.3,401.3L179.3,406.7L172.7,411.3L168.7,412.3L164.7,413.6L156.7,416.2L147.3,417.6L140.0,418.8L134.0,419.6L133.3,418.8L140.0,417.6L147.3,416.2L156.7,414.6L164.7,411.8L168.5,409.2L171.4,404.5L166.0,402.7L159.3,402.0L155.2,399.3L154.5,395.3L151.2,390.5L148.5,385.8L147.8,380.4L151.2,378.4L156.6,375.7L160.0,373.0L165.3,371.7L166.0,368.3L162.0,367.0L156.6,366.3L152.5,363.6L153.2,358.9L157.2,356.8L162.0,360.2L167.3,358.9L166.7,354.8L162.6,350.1Z"/>
<path d="M139.7,367.0L141.0,366.3L143.8,369.5L143.0,370.3L140.5,368.5Z"/>
<path d="M138.4,387.0L141.0,386.5L143.8,388.3L142.5,389.2L139.0,388.5Z"/>
<path d="M182.0,410.0L185.0,406.5L188.5,405.5L188.7,408.0L186.0,412.0L183.0,414.5L181.0,413.5Z"/>
<path d="M22.8,379.4L27.0,380.2L29.6,382.4L28.5,383.4L24.5,381.8L22.6,380.6Z"/>
<path d="M50.5,403.8L52.5,404.0L52.3,405.3L50.4,405.0Z"/>
<path d="M66.5,411.4L69.8,411.6L69.6,413.0L66.4,412.7Z"/>
<path d="M75.8,411.8L81.0,412.2L88.2,414.2L87.8,415.7L81.0,414.4L75.6,413.4Z"/>
<path d="M115.8,419.5L120.0,419.0L124.8,419.6L124.5,421.2L120.0,421.3L115.8,421.0Z"/>
<path d="M22.6,303.3L24.4,303.2L24.6,304.5L22.7,304.6Z"/>
<path d="M28.3,301.5L30.4,299.2L31.8,299.8L29.8,302.0Z"/>
<path d="M35.6,295.8L38.0,293.4L42.4,293.6L43.4,296.6L41.6,299.0L38.2,299.6L36.3,298.2Z"/>
<path d="M58.2,302.3L61.0,300.4L63.4,301.4L65.8,305.0L65.0,307.0L61.7,306.7L59.5,305.0Z"/>
<path d="M70.8,309.4L75.0,307.8L81.3,307.0L81.6,308.5L76.5,309.9L71.5,310.5Z"/>
<path d="M76.4,312.4L78.4,311.6L80.0,314.0L79.2,315.3L77.0,314.6Z"/>
<path d="M81.8,318.0L84.2,317.6L85.0,319.3L82.6,319.6Z"/>
<path d="M82.6,311.6L85.0,310.3L88.3,311.4L92.0,314.2L91.0,316.4L88.0,316.7L85.8,314.7L83.2,313.8Z"/>
<path d="M95.0,324.2L98.3,322.5L101.7,323.0L105.8,326.6L109.2,331.6L110.0,335.0L107.5,338.3L103.3,340.8L99.2,344.2L96.7,342.3L95.8,338.5L93.3,335.8L92.6,332.2L94.2,329.0L93.5,326.5Z"/></g>
<g stroke="#000" stroke-width="2.05" stroke-linejoin="round">
<path d="M72.4,6.4L119.3,18.7L111.7,53.9L111.5,59.6L93.3,54.8L89.3,54.7L83.7,54.6L78.1,54.1L72.4,54.3L67.5,51.9L62.5,52.6L58.9,50.5L59.4,47.6L59.5,44.2L57.2,42.4L54.1,40.6L50.3,39.1L51.2,34.9L52.9,32.6L52.4,29.7L52.8,24.3L53.0,19.4L52.7,14.5L53.3,10.7L56.6,12.6L61.1,15.6L65.3,16.9L68.1,18.0L68.9,19.9L69.9,22.3L72.2,16.4L72.6,10.7L72.4,6.4Z" fill="#a7d486"/>
<path d="M50.3,39.1L54.1,40.6L57.2,42.4L59.5,44.2L59.4,47.6L58.9,50.5L62.5,52.6L67.5,51.9L72.4,54.3L78.1,54.1L83.7,54.6L89.3,54.7L93.3,54.8L111.5,59.6L112.7,63.2L114.1,66.2L111.0,70.0L108.5,73.9L104.6,78.0L103.6,79.7L105.3,82.6L103.7,85.9L98.9,107.0L70.8,101.6L32.8,91.2L32.8,84.7L33.1,80.1L36.1,75.1L39.7,69.6L42.0,63.6L44.4,57.5L47.2,51.6L49.2,45.4L50.3,39.1Z" fill="#6ab840"/>
<path d="M32.8,91.2L70.8,101.6L64.5,139.0L104.8,203.2L104.6,205.8L105.6,210.0L108.3,213.7L104.6,216.4L103.0,221.4L100.6,224.9L102.2,229.3L99.2,232.4L71.5,229.1L70.9,225.1L71.4,220.9L70.1,216.9L67.2,212.4L64.1,209.2L62.1,208.5L62.1,204.4L59.0,203.5L55.4,200.3L51.3,195.3L46.6,192.6L42.9,190.2L43.7,185.8L44.7,182.7L43.1,179.0L40.2,174.2L36.5,165.4L37.1,161.7L39.4,159.8L38.0,157.4L34.8,153.4L34.9,149.6L36.0,146.1L34.3,144.4L31.7,142.3L32.2,138.7L29.4,135.3L27.8,129.7L28.1,124.7L29.2,118.6L27.7,114.3L26.0,109.4L29.0,105.7L30.7,103.0L32.2,97.6L32.1,94.3L32.8,91.2Z" fill="#0b9848"/>
<path d="M70.8,101.6L98.9,107.0L128.1,114.3L116.7,179.6L114.3,189.8L110.4,190.1L106.6,190.5L105.8,195.6L105.1,200.7L104.8,203.2L64.5,139.0L70.8,101.6Z" fill="#0b9848"/>
<path d="M119.3,18.7L127.7,20.7L124.8,34.5L126.8,39.3L125.9,42.9L129.1,46.2L131.3,51.2L133.5,55.7L134.3,60.5L132.3,66.2L130.9,69.8L133.9,70.6L136.5,69.1L137.5,70.7L138.9,79.5L141.5,84.5L143.2,87.4L148.0,86.4L155.3,87.6L159.5,88.8L153.8,118.8L128.1,114.3L98.9,107.0L103.7,85.9L105.3,82.6L103.6,79.7L104.6,78.0L108.5,73.9L111.0,70.0L114.1,66.2L112.7,63.2L111.5,59.6L111.7,53.9L119.3,18.7Z" fill="#0b9848"/>
<path d="M127.7,20.7L238.7,32.9L236.0,74.7L232.8,86.8L160.8,82.6L159.5,88.8L155.3,87.6L148.0,86.4L143.2,87.4L141.5,84.5L138.9,79.5L137.5,70.7L136.5,69.1L133.9,70.6L130.9,69.8L132.3,66.2L134.3,60.5L133.5,55.7L131.3,51.2L129.1,46.2L125.9,42.9L126.8,39.3L124.8,34.5L127.7,20.7Z" fill="#095234"/>
<path d="M159.5,88.8L160.8,82.6L232.8,86.8L231.8,112.4L229.7,137.6L173.1,135.5L153.2,131.5L153.8,118.8L159.5,88.8Z" fill="#6ab840"/>
<path d="M128.1,114.3L153.8,118.8L153.2,131.5L173.1,135.5L167.3,187.6L116.7,179.6L128.1,114.3Z" fill="#6ab840"/>
<path d="M173.1,135.5L229.7,137.6L248.3,140.2L246.4,154.0L245.8,193.4L234.4,193.4L167.3,187.6L173.1,135.5Z" fill="#6ab840"/>
<path d="M116.7,179.6L167.3,187.6L157.2,262.5L134.8,259.6L97.6,235.3L99.2,232.4L102.2,229.3L100.6,224.9L103.0,221.4L104.6,216.4L108.3,213.7L105.6,210.0L104.6,205.8L104.8,203.2L105.1,200.7L105.8,195.6L106.6,190.5L110.4,190.1L114.3,189.8L116.7,179.6Z" fill="#a7d486"/>
<path d="M167.3,187.6L234.4,193.4L234.2,200.7L231.2,255.5L184.4,257.0L184.7,259.9L166.9,258.0L165.7,263.8L157.2,262.5L167.3,187.6Z" fill="#a7d486"/>
<path d="M234.2,200.7L266.4,201.7L266.4,228.9L270.8,231.4L275.2,232.4L278.6,234.3L283.0,234.8L287.5,234.7L289.7,237.3L294.2,237.8L297.6,239.0L300.9,236.2L305.4,238.1L311.0,237.1L315.5,236.2L319.9,235.2L323.1,237.2L327.4,239.3L331.4,240.4L330.6,248.7L331.0,263.4L333.6,268.1L337.0,272.4L337.9,275.0L336.5,280.6L336.4,284.1L334.6,287.8L331.2,288.3L324.1,290.0L323.1,288.4L320.0,287.3L318.8,290.7L320.3,293.0L318.2,294.2L314.2,296.7L311.6,298.0L306.5,300.7L303.0,301.5L299.7,301.8L300.5,304.4L298.7,306.0L296.6,305.5L295.7,309.2L292.5,311.9L290.8,315.7L288.5,318.1L289.5,323.1L290.7,333.1L292.1,340.8L289.5,342.1L286.7,340.3L282.6,338.5L278.1,334.6L274.7,332.1L271.3,325.8L270.4,318.9L267.0,315.4L262.5,309.2L259.0,302.3L254.5,293.3L253.4,289.8L246.0,286.8L235.9,285.8L230.7,287.9L228.3,293.7L223.7,298.2L216.3,295.6L209.6,292.6L202.2,287.5L201.1,280.5L199.1,274.0L193.3,268.6L187.4,264.1L184.7,259.9L184.4,257.0L231.2,255.5L234.2,200.7Z" fill="#a7d486"/>
<path d="M234.4,193.4L245.8,193.4L321.4,193.9L322.9,199.6L326.9,213.9L327.4,239.3L323.1,237.2L319.9,235.2L315.5,236.2L311.0,237.1L305.4,238.1L300.9,236.2L297.6,239.0L294.2,237.8L289.7,237.3L287.5,234.7L283.0,234.8L278.6,234.3L275.2,232.4L270.8,231.4L266.4,228.9L266.4,201.7L234.2,200.7L234.4,193.4Z" fill="#6ab840"/>
<path d="M246.4,154.0L315.2,153.7L318.7,157.0L316.5,159.3L318.2,163.3L321.1,165.9L321.4,193.9L245.8,193.4L246.4,154.0Z" fill="#095234"/>
<path d="M231.8,112.4L283.7,114.9L288.9,117.7L294.3,116.5L299.5,117.1L303.7,120.8L305.2,121.3L308.0,125.7L309.3,130.9L311.5,134.6L312.1,139.9L312.5,145.5L313.8,149.5L315.2,153.7L246.4,154.0L248.3,140.2L229.7,137.6L231.8,112.4Z" fill="#6ab840"/>
<path d="M236.0,74.7L300.8,76.6L300.5,78.4L302.5,84.4L305.4,106.5L303.8,112.2L304.8,116.4L303.7,120.8L299.5,117.1L294.3,116.5L288.9,117.7L283.7,114.9L231.8,112.4L232.8,86.8L236.0,74.7Z" fill="#0b9848"/>
<path d="M238.7,32.9L297.7,34.5L298.5,40.1L298.8,47.1L299.5,54.1L299.3,62.4L299.4,67.9L300.5,73.2L300.8,76.6L236.0,74.7L238.7,32.9Z" fill="#6ab840"/>
<path d="M297.7,34.5L315.0,33.7L318.3,36.2L324.6,38.4L330.5,37.8L336.3,39.3L341.3,40.8L346.4,43.6L351.1,42.5L357.6,42.5L361.8,42.8L355.5,46.8L348.4,55.6L342.3,61.5L340.6,63.0L340.8,70.3L338.2,74.4L336.4,78.4L337.0,82.9L336.7,88.0L341.1,90.2L344.7,94.6L349.2,97.8L351.2,103.6L305.4,106.5L302.5,84.4L300.5,78.4L300.8,76.6L300.5,73.2L299.4,67.9L299.3,62.4L299.5,54.1L298.8,47.1L298.5,40.1L297.7,34.5Z" fill="#6ab840"/>
<path d="M305.4,106.5L351.2,103.6L352.8,110.3L354.2,113.7L358.6,117.3L361.4,120.6L364.6,125.2L363.9,128.9L358.4,130.6L357.1,134.5L358.8,137.1L357.8,141.0L354.9,144.8L351.6,141.8L312.5,145.5L312.1,139.9L311.5,134.6L309.3,130.9L308.0,125.7L305.2,121.3L303.7,120.8L304.8,116.4L303.8,112.2L305.4,106.5Z" fill="#a7d486"/>
<path d="M312.5,145.5L351.6,141.8L354.9,144.8L354.7,149.4L357.4,155.6L362.3,160.3L363.9,164.5L368.8,166.4L367.9,171.5L370.7,176.4L375.1,180.4L376.4,187.8L380.3,191.8L379.7,194.6L376.4,198.6L375.6,201.5L375.1,204.2L368.2,204.0L369.7,198.4L322.9,199.6L321.4,193.9L321.1,165.9L318.2,163.3L316.5,159.3L318.7,157.0L315.2,153.7L313.8,149.5L312.5,145.5Z" fill="#a7d486"/>
<path d="M322.9,199.6L369.7,198.4L368.2,204.0L375.1,204.2L373.9,208.4L372.4,211.7L371.8,215.4L370.7,218.8L367.3,224.2L362.5,230.7L360.0,237.2L360.2,246.7L330.6,248.7L331.4,240.4L327.4,239.3L326.9,213.9L322.9,199.6Z" fill="#0b9848"/>
<path d="M330.6,248.7L360.2,246.7L361.2,252.9L363.8,257.3L362.5,262.4L360.4,267.2L359.3,271.6L359.6,274.5L377.7,274.7L378.1,278.9L380.3,282.6L379.3,283.3L381.7,285.3L381.0,289.2L385.0,291.2L386.4,294.4L382.5,293.9L379.2,292.2L376.2,294.3L373.0,295.2L367.8,296.1L363.6,294.0L358.3,291.7L353.9,290.4L348.3,289.6L341.4,287.3L334.6,287.8L336.4,284.1L336.5,280.6L337.9,275.0L337.0,272.4L333.6,268.1L331.0,263.4L330.6,248.7Z" fill="#0b9848"/>
<path d="M371.8,215.4L391.8,216.0L392.9,217.3L390.4,260.5L392.8,277.2L388.4,278.2L383.2,280.6L380.3,282.6L378.1,278.9L377.7,274.7L359.6,274.5L359.3,271.6L360.4,267.2L362.5,262.4L363.8,257.3L361.2,252.9L360.2,246.7L360.0,237.2L362.5,230.7L367.3,224.2L370.7,218.8L371.8,215.4Z" fill="#095234"/>
<path d="M391.8,216.0L419.4,213.5L426.9,243.7L430.1,251.5L429.8,257.2L431.0,261.1L431.0,264.9L432.7,268.3L401.0,269.6L403.0,272.4L402.8,276.6L400.0,277.1L398.2,276.1L396.8,273.7L396.1,277.4L392.8,277.2L390.4,260.5L392.9,217.3L391.8,216.0Z" fill="#6ab840"/>
<path d="M419.4,213.5L433.9,211.3L444.6,209.6L442.7,213.8L447.2,217.4L450.9,222.0L454.4,225.1L458.5,227.3L461.6,229.7L465.1,233.9L468.8,239.5L473.1,241.5L470.8,244.6L470.8,250.9L470.2,257.4L470.2,263.3L464.5,266.8L462.4,267.8L434.5,270.9L432.7,268.3L431.0,264.9L431.0,261.1L429.8,257.2L430.1,251.5L426.9,243.7L419.4,213.5Z" fill="#0b9848"/>
<path d="M401.0,269.6L432.7,268.3L434.5,270.9L462.4,267.8L464.5,266.8L470.2,263.3L472.5,268.8L475.2,275.1L479.5,280.4L483.7,285.3L486.9,288.5L487.3,293.0L492.3,298.8L496.5,306.2L498.5,312.6L499.2,321.3L498.2,325.6L497.9,329.7L494.4,330.9L489.7,332.7L485.7,328.1L480.5,323.9L478.7,320.8L474.6,315.8L470.6,310.9L465.0,304.2L464.8,299.7L462.0,294.8L460.7,288.1L456.9,283.8L453.7,280.2L448.4,276.5L444.0,275.1L440.9,275.8L437.9,279.1L433.5,281.8L429.3,282.0L425.9,277.9L420.8,276.4L414.3,274.7L408.4,275.2L402.8,276.6L403.0,272.4L401.0,269.6Z" fill="#6ab840"/>
<path d="M495.4,214.1L480.2,205.2L467.7,207.3L465.8,204.2L451.9,205.6L444.6,209.6L442.7,213.8L447.2,217.4L450.9,222.0L454.4,225.1L458.5,227.3L461.6,229.7L465.1,233.9L468.8,239.5L473.1,241.5L476.3,236.5L481.1,230.2L486.1,224.9L488.9,220.7L491.8,217.1L495.4,214.1Z" fill="#6ab840"/>
<path d="M517.6,175.5L455.1,187.5L453.3,192.5L448.5,194.9L446.1,196.5L441.1,202.5L436.8,206.6L433.9,211.3L444.6,209.6L451.9,205.6L465.8,204.2L467.7,207.3L480.2,205.2L495.4,214.1L501.5,212.3L503.6,206.3L509.3,200.8L516.0,200.1L519.4,195.0L525.2,190.5L522.6,184.1L517.6,175.5Z" fill="#6ab840"/>
<path d="M376.4,198.6L392.2,196.6L392.1,194.2L439.3,188.6L455.1,187.5L453.3,192.5L448.5,194.9L446.1,196.5L441.1,202.5L436.8,206.6L433.9,211.3L419.4,213.5L391.8,216.0L371.8,215.4L372.4,211.7L373.9,208.4L375.1,204.2L375.6,201.5L376.4,198.6Z" fill="#6ab840"/>
<path d="M439.3,188.6L392.1,194.2L392.2,196.6L376.4,198.6L379.7,194.6L380.3,191.8L384.1,189.0L387.3,189.1L390.4,183.4L391.7,178.1L396.2,176.0L401.5,178.1L406.4,177.1L409.0,174.9L413.2,176.1L413.4,172.8L416.5,169.5L418.1,168.3L420.7,163.0L423.9,162.0L427.8,164.5L433.2,164.3L438.1,162.2L441.1,159.1L444.0,162.8L444.2,166.3L446.0,172.6L449.7,176.6L447.7,179.8L444.3,184.1L439.3,188.6Z" fill="#0b9848"/>
<path d="M517.6,175.5L455.1,187.5L439.3,188.6L444.3,184.1L447.7,179.8L449.7,176.6L453.0,180.6L457.7,178.9L466.5,173.3L470.2,166.8L472.7,159.0L476.9,157.0L480.1,151.6L484.5,146.3L484.6,142.9L490.9,146.5L491.7,143.9L496.4,144.3L500.7,144.4L504.3,143.2L505.7,148.8L508.5,156.1L509.8,163.6L511.9,171.6L515.7,172.1L517.6,175.5Z" fill="#0b9848"/>
<path d="M449.7,176.6L446.0,172.6L444.2,166.3L444.0,162.8L447.1,159.6L447.5,154.5L450.3,150.4L454.3,147.5L456.8,144.3L458.2,140.0L460.3,137.8L461.2,141.2L471.9,140.3L472.8,147.4L477.5,143.5L480.0,141.3L484.3,140.2L489.9,141.1L491.7,143.9L490.9,146.5L484.6,142.9L484.5,146.3L480.1,151.6L476.9,157.0L472.7,159.0L470.2,166.8L466.5,173.3L457.7,178.9L453.0,180.6L449.7,176.6Z" fill="#0b9848"/>
<path d="M460.3,137.8L458.2,140.0L456.8,144.3L454.3,147.5L450.3,150.4L447.5,154.5L447.1,159.6L444.0,162.8L441.1,159.1L438.1,162.2L433.2,164.3L427.8,164.5L423.9,162.0L420.7,163.0L415.5,120.8L430.4,118.4L435.1,119.5L438.2,121.2L444.6,119.4L447.4,119.0L451.4,115.0L457.1,111.1L460.3,137.8Z" fill="#6ab840"/>
<path d="M396.6,124.8L393.6,127.4L390.5,126.6L394.6,158.3L394.3,161.6L395.9,166.1L392.5,170.3L391.7,178.1L396.2,176.0L401.5,178.1L406.4,177.1L409.0,174.9L413.2,176.1L413.4,172.8L416.5,169.5L418.1,168.3L420.7,163.0L415.5,120.8L396.6,124.8Z" fill="#a7d486"/>
<path d="M358.6,117.3L385.6,118.8L388.4,123.7L390.5,126.6L394.6,158.3L394.3,161.6L395.9,166.1L392.5,170.3L391.7,178.1L390.4,183.4L387.3,189.1L384.1,189.0L380.3,191.8L376.4,187.8L375.1,180.4L370.7,176.4L367.9,171.5L368.8,166.4L363.9,164.5L362.3,160.3L357.4,155.6L354.7,149.4L354.9,144.8L357.8,141.0L358.8,137.1L357.1,134.5L358.4,130.6L363.9,128.9L364.6,125.2L361.4,120.6L358.6,117.3Z" fill="#0b9848"/>
<path d="M336.7,88.0L337.0,82.9L336.4,78.4L338.2,74.4L340.8,70.3L340.6,63.0L342.3,61.5L344.9,62.0L349.6,59.6L352.7,58.0L356.4,62.9L359.2,65.8L368.2,68.8L371.9,70.1L377.6,70.4L379.7,73.1L381.0,78.1L383.1,82.2L380.0,90.4L383.4,85.8L388.6,78.8L384.9,92.2L384.0,102.4L383.0,109.6L385.6,118.8L358.6,117.3L354.2,113.7L352.8,110.3L351.2,103.6L349.2,97.8L344.7,94.6L341.1,90.2L336.7,88.0Z" fill="#a7d486"/>
<path d="M396.6,124.8L415.5,120.8L430.4,118.4L433.1,113.5L433.2,109.4L436.4,106.2L436.4,100.3L433.5,93.0L431.4,88.2L428.4,88.0L425.1,90.7L420.7,95.5L419.8,91.2L423.6,85.9L423.1,78.1L421.5,76.5L417.7,72.6L413.9,70.0L409.1,69.1L406.8,70.6L404.0,76.6L402.0,81.1L402.8,84.3L399.3,82.2L397.5,83.9L396.7,90.3L395.5,96.8L398.7,106.1L399.9,110.9L400.0,117.2L398.1,122.1L396.6,124.8Z" fill="#a7d486"/>
<path d="M356.4,62.9L359.2,65.8L368.2,68.8L371.9,70.1L377.6,70.4L379.7,73.1L381.0,78.1L383.1,82.2L382.7,76.5L387.2,72.4L391.9,70.5L395.6,68.6L402.0,65.6L408.9,67.8L411.9,66.2L418.7,64.1L416.0,61.9L413.3,58.1L409.9,59.3L406.3,55.5L401.7,56.9L392.3,61.8L383.6,62.0L380.3,58.0L375.3,56.3L376.5,49.1L373.7,50.1L371.2,53.1L367.9,56.9L363.6,58.6L356.4,62.9Z" fill="#a7d486"/>
<path d="M457.1,111.1L463.3,106.5L464.2,110.1L508.8,105.1L511.5,106.5L512.8,109.9L516.2,112.5L514.2,118.6L515.9,123.2L514.7,124.2L517.6,126.7L519.7,127.4L517.8,130.0L516.7,131.6L514.5,134.1L512.8,134.1L511.2,135.8L471.9,140.3L461.2,141.2L460.3,137.8L457.1,111.1Z" fill="#6ab840"/>
<path d="M516.2,112.5L512.8,109.9L511.5,106.5L508.8,105.1L464.2,110.1L463.3,106.5L468.2,100.1L468.7,97.2L465.8,92.7L470.1,90.4L478.5,91.0L484.3,89.4L489.1,85.5L487.2,79.8L485.2,77.2L489.2,71.4L493.0,64.8L498.4,61.7L511.2,59.9L512.1,66.9L513.1,73.9L514.4,79.4L516.2,79.7L519.7,89.9L521.2,98.3L526.2,110.0L525.8,113.4L525.7,115.8L529.2,113.3L535.1,110.2L537.3,107.8L541.2,107.1L537.6,111.4L532.9,115.3L526.9,119.4L524.8,120.4L524.1,119.5L524.3,118.7L524.3,117.2L523.8,114.3L516.2,112.5Z" fill="#095234"/>
<path d="M516.2,112.5L523.8,114.3L524.3,117.2L524.3,118.7L523.9,120.3L523.0,122.1L525.3,122.0L526.6,126.5L526.9,131.3L525.7,136.4L524.0,140.2L521.2,143.8L521.0,140.3L517.8,139.8L514.5,138.0L513.7,136.9L514.5,134.1L516.7,131.6L517.8,130.0L519.7,127.4L517.6,126.7L514.7,124.2L515.9,123.2L514.2,118.6L516.2,112.5Z" fill="#095234"/>
<path d="M511.2,135.8L512.8,134.1L514.5,134.1L513.7,136.9L514.1,138.7L516.0,140.9L517.6,143.8L520.5,145.7L521.4,150.1L514.8,151.6L511.2,135.8Z" fill="#c9e3ad"/>
<path d="M520.5,155.7L517.5,163.3L515.3,168.9L514.3,164.0L516.4,157.7L520.5,155.7Z" fill="#c9e3ad"/>
<path d="M521.2,98.3L537.6,94.8L540.5,103.7L536.4,105.4L531.0,107.5L528.9,109.8L525.8,113.4L526.2,110.0L521.2,98.3Z" fill="#095234"/>
<path d="M537.6,94.8L541.5,93.7L542.1,95.2L545.4,96.9L546.2,99.4L544.0,100.8L540.5,103.7L537.6,94.8Z" fill="#0b9848"/>
<path d="M519.7,89.9L527.6,88.3L538.5,85.2L541.9,81.5L545.0,83.6L543.6,86.2L543.1,88.6L544.1,89.6L547.6,92.0L550.6,94.5L554.3,92.4L553.6,90.5L551.6,89.5L553.5,89.1L555.5,92.7L555.5,94.2L551.6,97.0L550.3,97.4L547.8,97.5L546.2,99.4L545.4,96.9L542.1,95.2L541.5,93.7L537.6,94.8L521.2,98.3L519.7,89.9Z" fill="#095234"/>
<path d="M519.7,89.9L527.6,88.3L525.3,85.2L524.4,78.4L525.3,71.0L528.1,65.8L528.7,57.0L528.5,55.5L511.2,59.9L512.1,66.9L513.1,73.9L514.4,79.4L516.2,79.7L519.7,89.9Z" fill="#095234"/>
<path d="M527.6,88.3L538.5,85.2L541.9,81.5L541.9,78.6L538.2,75.9L532.4,50.0L528.5,55.5L528.7,57.0L528.1,65.8L525.3,71.0L524.4,78.4L525.3,85.2L527.6,88.3Z" fill="#0b9848"/>
<path d="M541.9,78.6L544.0,70.8L545.5,67.2L549.6,64.0L553.1,58.7L553.4,53.1L557.7,54.4L560.5,50.9L564.2,47.2L567.7,42.1L563.6,37.9L559.2,32.4L556.0,32.1L552.7,16.2L550.0,14.8L547.5,15.1L545.1,15.3L542.7,16.8L539.4,19.0L539.2,25.0L538.7,33.2L536.8,41.7L534.3,47.8L532.4,50.0L538.2,75.9L541.9,78.6Z" fill="#0b9848"/>
<path d="M471.9,140.3L509.1,136.3L509.4,138.4L506.5,140.2L504.3,143.2L500.7,144.4L496.4,144.3L491.7,143.9L489.9,141.1L484.3,140.2L480.0,141.3L477.5,143.5L472.8,147.4L471.9,140.3Z" fill="#6ab840"/>
<path d="M509.1,136.3L511.2,135.8L514.8,151.6L521.4,150.1L520.5,155.7L516.4,157.7L513.7,157.6L510.9,154.3L508.2,150.9L508.7,147.0L509.5,142.3L509.4,138.4L509.1,136.3Z" fill="#c9e3ad"/>
<path d="M162.0,344.7L164.7,342.3L170.0,338.3L174.7,335.0L176.7,333.7L180.7,333.0L184.0,335.7L188.7,337.7L194.0,338.3L198.0,337.7L202.7,337.0L205.3,337.7L210.0,350.3L215.3,363.7L220.7,381.0L221.3,386.3L224.0,386.6L227.0,385.8L230.0,387.3L234.0,386.8L238.0,388.0L241.5,387.6L241.3,382.8L246.0,383.5L252.0,385.0L258.0,386.0L264.0,387.0L269.0,388.0L273.5,391.8L271.5,396.0L267.0,397.2L262.0,396.5L260.0,397.0L257.0,395.0L252.0,393.5L249.5,392.5L245.0,391.0L242.0,389.8L238.0,389.8L234.0,389.3L230.0,389.8L226.0,388.8L221.0,389.3L215.0,390.5L210.0,389.3L202.0,393.3L194.0,397.3L189.5,395.0L186.0,398.5L183.3,401.3L179.3,406.7L172.7,411.3L168.7,412.3L164.7,413.6L156.7,416.2L147.3,417.6L140.0,418.8L134.0,419.6L133.3,418.8L140.0,417.6L147.3,416.2L156.7,414.6L164.7,411.8L168.5,409.2L171.4,404.5L166.0,402.7L159.3,402.0L155.2,399.3L154.5,395.3L151.2,390.5L148.5,385.8L147.8,380.4L151.2,378.4L156.6,375.7L160.0,373.0L165.3,371.7L166.0,368.3L162.0,367.0L156.6,366.3L152.5,363.6L153.2,358.9L157.2,356.8L162.0,360.2L167.3,358.9L166.7,354.8L162.6,350.1Z" fill="#095234"/>
<path d="M139.7,367.0L141.0,366.3L143.8,369.5L143.0,370.3L140.5,368.5Z" fill="#095234" stroke-width="1.4"/>
<path d="M138.4,387.0L141.0,386.5L143.8,388.3L142.5,389.2L139.0,388.5Z" fill="#095234" stroke-width="1.4"/>
<path d="M182.0,410.0L185.0,406.5L188.5,405.5L188.7,408.0L186.0,412.0L183.0,414.5L181.0,413.5Z" fill="#095234" stroke-width="1.4"/>
<path d="M22.8,379.4L27.0,380.2L29.6,382.4L28.5,383.4L24.5,381.8L22.6,380.6Z" fill="#095234" stroke-width="1.4"/>
<path d="M50.5,403.8L52.5,404.0L52.3,405.3L50.4,405.0Z" fill="#095234" stroke-width="1.4"/>
<path d="M66.5,411.4L69.8,411.6L69.6,413.0L66.4,412.7Z" fill="#095234" stroke-width="1.4"/>
<path d="M75.8,411.8L81.0,412.2L88.2,414.2L87.8,415.7L81.0,414.4L75.6,413.4Z" fill="#095234" stroke-width="1.4"/>
<path d="M115.8,419.5L120.0,419.0L124.8,419.6L124.5,421.2L120.0,421.3L115.8,421.0Z" fill="#095234" stroke-width="1.4"/>
<path d="M22.6,303.3L24.4,303.2L24.6,304.5L22.7,304.6Z" fill="#095234" stroke-width="1.3"/>
<path d="M28.3,301.5L30.4,299.2L31.8,299.8L29.8,302.0Z" fill="#095234" stroke-width="1.3"/>
<path d="M35.6,295.8L38.0,293.4L42.4,293.6L43.4,296.6L41.6,299.0L38.2,299.6L36.3,298.2Z" fill="#095234" stroke-width="1.3"/>
<path d="M58.2,302.3L61.0,300.4L63.4,301.4L65.8,305.0L65.0,307.0L61.7,306.7L59.5,305.0Z" fill="#095234" stroke-width="1.3"/>
<path d="M70.8,309.4L75.0,307.8L81.3,307.0L81.6,308.5L76.5,309.9L71.5,310.5Z" fill="#095234" stroke-width="1.3"/>
<path d="M76.4,312.4L78.4,311.6L80.0,314.0L79.2,315.3L77.0,314.6Z" fill="#095234" stroke-width="1.3"/>
<path d="M81.8,318.0L84.2,317.6L85.0,319.3L82.6,319.6Z" fill="#095234" stroke-width="1.3"/>
<path d="M82.6,311.6L85.0,310.3L88.3,311.4L92.0,314.2L91.0,316.4L88.0,316.7L85.8,314.7L83.2,313.8Z" fill="#095234" stroke-width="1.3"/>
<path d="M95.0,324.2L98.3,322.5L101.7,323.0L105.8,326.6L109.2,331.6L110.0,335.0L107.5,338.3L103.3,340.8L99.2,344.2L96.7,342.3L95.8,338.5L93.3,335.8L92.6,332.2L94.2,329.0L93.5,326.5Z" fill="#095234" stroke-width="1.3"/>
<path d="M135.3,121.3L137.3,120.6L139.0,124.0L140.5,123.2L141.3,121.8L142.3,123.0L141.6,125.6L144.5,127.6L145.2,130.0L143.0,131.2L139.8,128.6L137.8,126.5L136.4,124.0Z" fill="#fff" stroke-width="1.2"/>
<path d="M488.2,309.8L489.5,311.5L491.0,314.5L490.5,316.2L487.5,316.3L485.0,315.8L486.3,312.5Z" fill="#fff" stroke-width="1.2"/>
<path d="M522.0,108.8L527.0,106.6L533.0,104.7L539.2,103.2L540.3,104.3L535.0,106.8L529.0,109.5L523.5,111.2L521.6,110.6Z" fill="#fff" stroke-width="1.2"/>
<path d="M421.0,63.6L423.5,62.0L426.2,63.8L424.0,64.8Z" fill="#a7d486" stroke-width="1"/>
<path d="M345.0,280.4L347.6,279.0L355.0,290.0L352.6,291.6Z" fill="#fff" stroke-width="1.0"/>
<path d="M364.6,286.0L366.6,283.8L388.0,294.0L386.4,296.0Z" fill="#fff" stroke-width="1.0"/>
<path d="M371.0,276.5L374.5,275.4L377.6,276.6L375.0,278.2L371.5,277.8Z" fill="#fff" stroke-width="1.0"/>
<path d="M33.5,139.5L36.0,141.0L38.2,144.5L38.8,148.5L37.6,149.2L36.2,145.6L34.2,143.2L32.8,141.0Z" fill="#fff" stroke-width="1.1"/>
<circle cx="43.1" cy="207.5" r="0.9" fill="#111" stroke="none"/>
<circle cx="48.2" cy="205.6" r="0.9" fill="#111" stroke="none"/>
<circle cx="48.2" cy="218.7" r="0.9" fill="#111" stroke="none"/>
<circle cx="61.3" cy="219.4" r="0.9" fill="#111" stroke="none"/>
<circle cx="59.1" cy="225" r="0.9" fill="#111" stroke="none"/>
<ellipse cx="482.5" cy="337.5" rx="1.2" ry="0.6" fill="#111" stroke="none"/>
<ellipse cx="485.5" cy="336.8" rx="1.0" ry="0.6" fill="#111" stroke="none"/>
<ellipse cx="488.5" cy="335.6" rx="1.0" ry="0.6" fill="#111" stroke="none"/>
</g>
<g fill="none" stroke="#fff" stroke-opacity="0.52" stroke-width="4.8" stroke-linecap="round" stroke-linejoin="round">
<path d="M199,133 C190,129 176,130 175.5,148 C175.5,165 188,168 198,163"/>
<path d="M213.5,138 L213.5,164.5 M213,130 L215,132.5"/>
<path d="M227,134 L227,166 M227,134 C252,132 252,168 227,166"/>
<path d="M263,136 L263,163 C264,166 272,166 277,164 M250,147.5 L277,147"/>
<path d="M285,133 L293,166 L300,146 L308,166 L316,133"/>
<path d="M319,167 L333,130 L348,167 M325,153 L342,153"/>
<path d="M360,131 L360,165 L380,165"/>
<path d="M386,130 L386,167 M405,131 L388,150 L407,167"/>
</g>
<text x="241" y="218.5" font-family="Liberation Sans, sans-serif" font-size="24" fill="#555" fill-opacity="0.4" textLength="103" lengthAdjust="spacingAndGlyphs">by Chitika</text>
<g font-family="Liberation Sans, sans-serif"><text x="64.7" y="37.2" fill="#12300c" stroke="#12300c" stroke-width="0.25" font-size="8.0" textLength="40.0" lengthAdjust="spacingAndGlyphs">Washington</text>
<text x="58.7" y="76.3" fill="#12300c" stroke="#12300c" stroke-width="0.25" font-size="8.0" textLength="25.5" lengthAdjust="spacingAndGlyphs">Oregon</text>
<text x="115.8" y="93.3" fill="#c2f3d0" stroke="#c2f3d0" stroke-width="0.25" font-size="8.0" textLength="19.5" lengthAdjust="spacingAndGlyphs">Idaho</text>
<text x="165.8" y="54.2" fill="#c2f3d0" stroke="#c2f3d0" stroke-width="0.25" font-size="8.0" textLength="30.3" lengthAdjust="spacingAndGlyphs">Montana</text>
<text x="174.7" y="108.2" fill="#12300c" stroke="#12300c" stroke-width="0.25" font-size="8.0" textLength="32.8" lengthAdjust="spacingAndGlyphs">Wyoming</text>
<text x="245.6" y="58.1" fill="#12300c" stroke="#12300c" stroke-width="0.25" font-size="8.0" textLength="45.2" lengthAdjust="spacingAndGlyphs">North Dakota</text>
<text x="246.6" y="98.5" fill="#c2f3d0" stroke="#c2f3d0" stroke-width="0.25" font-size="8.0" textLength="45.7" lengthAdjust="spacingAndGlyphs">South Dakota</text>
<text x="303.7" y="66.6" fill="#12300c" stroke="#12300c" stroke-width="0.25" font-size="8.0" textLength="35.7" lengthAdjust="spacingAndGlyphs">Minnesota</text>
<text x="322.4" y="124.1" fill="#12300c" stroke="#12300c" stroke-width="0.25" font-size="8.0" textLength="16.6" lengthAdjust="spacingAndGlyphs">Iowa</text>
<text x="253.5" y="134.5" fill="#12300c" stroke="#12300c" stroke-width="0.25" font-size="8.0" textLength="31.5" lengthAdjust="spacingAndGlyphs">Nebraska</text>
<text x="345.6" y="86.6" fill="#12300c" stroke="#12300c" stroke-width="0.25" font-size="8.0" textLength="33.8" lengthAdjust="spacingAndGlyphs">Wisconsin</text>
<text x="404.1" y="105.4" fill="#12300c" stroke="#12300c" stroke-width="0.25" font-size="6.8" textLength="27.0" lengthAdjust="spacingAndGlyphs">Michigan</text>
<text x="425.9" y="139.5" fill="#12300c" stroke="#12300c" stroke-width="0.25" font-size="8.0" textLength="17.2" lengthAdjust="spacingAndGlyphs">Ohio</text>
<text x="393.7" y="145.1" fill="#12300c" stroke="#12300c" stroke-width="0.25" font-size="6.8" textLength="21.4" lengthAdjust="spacingAndGlyphs">Indiana</text>
<text x="363.2" y="149.7" fill="#c2f3d0" stroke="#c2f3d0" stroke-width="0.25" font-size="8.0" textLength="22.8" lengthAdjust="spacingAndGlyphs">Illinois</text>
<text x="401.8" y="185.0" fill="#c2f3d0" stroke="#c2f3d0" stroke-width="0.25" font-size="8.0" textLength="31.1" lengthAdjust="spacingAndGlyphs">Kentucky</text>
<text x="383.7" y="204.3" fill="#12300c" stroke="#12300c" stroke-width="0.25" font-size="8.0" textLength="34.3" lengthAdjust="spacingAndGlyphs">Tennessee</text>
<text x="464.1" y="197.5" fill="#12300c" stroke="#12300c" stroke-width="0.25" font-size="8.0" textLength="35.6" lengthAdjust="spacingAndGlyphs">N. Carolina</text>
<text x="455.8" y="219.3" fill="#12300c" stroke="#12300c" stroke-width="0.25" font-size="8.0" textLength="34.2" lengthAdjust="spacingAndGlyphs">S. Carolina</text>
<text x="450.6" y="158.6" fill="#c2f3d0" stroke="#c2f3d0" stroke-width="0.25" font-size="5.8" textLength="5.2" lengthAdjust="spacingAndGlyphs">W.</text>
<text x="450.6" y="167.0" fill="#c2f3d0" stroke="#c2f3d0" stroke-width="0.25" font-size="5.8" textLength="19.1" lengthAdjust="spacingAndGlyphs">Virginia</text>
<text x="480.0" y="168.0" fill="#c2f3d0" stroke="#c2f3d0" stroke-width="0.25" font-size="8.0" textLength="24.9" lengthAdjust="spacingAndGlyphs">Virginia</text>
<text x="461.8" y="122.5" fill="#12300c" stroke="#12300c" stroke-width="0.25" font-size="8.0" textLength="43.2" lengthAdjust="spacingAndGlyphs">Pennsylvania</text>
<text x="523.7" y="150.3" fill="#333" stroke="#333" stroke-width="0.25" font-size="8.0" textLength="31.3" lengthAdjust="spacingAndGlyphs">Delaware</text>
<text x="523.3" y="161.7" fill="#333" stroke="#333" stroke-width="0.25" font-size="8.0" textLength="31.7" lengthAdjust="spacingAndGlyphs">Maryland</text>
<text x="530.8" y="129.7" fill="#333" stroke="#333" stroke-width="0.25" font-size="8.0" textLength="37.5" lengthAdjust="spacingAndGlyphs">New Jersey</text>
<text x="548.0" y="107.8" fill="#333" stroke="#333" stroke-width="0.25" font-size="8.0" textLength="43.3" lengthAdjust="spacingAndGlyphs">Rhode Island</text>
<text x="491.7" y="26.9" fill="#333" stroke="#333" stroke-width="0.25" font-size="8.0" textLength="15.1" lengthAdjust="spacingAndGlyphs">New</text>
<text x="491.7" y="36.4" fill="#333" stroke="#333" stroke-width="0.25" font-size="8.0" textLength="36.4" lengthAdjust="spacingAndGlyphs">Hampshire</text>
<text x="479.8" y="51.2" fill="#333" stroke="#333" stroke-width="0.25" font-size="8.0" textLength="28.8" lengthAdjust="spacingAndGlyphs">Vermont</text>
<text x="539.8" y="44.7" fill="#c2f3d0" stroke="#c2f3d0" stroke-width="0.25" font-size="8.0" textLength="20.1" lengthAdjust="spacingAndGlyphs">Maine</text>
<text x="479.8" y="96.2" fill="#c2f3d0" stroke="#c2f3d0" stroke-width="0.25" font-size="8.0" textLength="30.9" lengthAdjust="spacingAndGlyphs">New York</text>
<text x="82.9" y="146.0" fill="#c2f3d0" stroke="#c2f3d0" stroke-width="0.25" font-size="8.0" textLength="25.6" lengthAdjust="spacingAndGlyphs">Nevada</text>
<text x="42.9" y="170.9" fill="#c2f3d0" stroke="#c2f3d0" stroke-width="0.25" font-size="8.0" textLength="31.3" lengthAdjust="spacingAndGlyphs">California</text>
<text x="120.7" y="215.1" fill="#12300c" stroke="#12300c" stroke-width="0.25" font-size="8.0" textLength="25.1" lengthAdjust="spacingAndGlyphs">Arizona</text>
<text x="136.9" y="157.0" fill="#12300c" stroke="#12300c" stroke-width="0.25" font-size="8.0" textLength="15.9" lengthAdjust="spacingAndGlyphs">Utah</text>
<text x="188.8" y="163.5" fill="#12300c" stroke="#12300c" stroke-width="0.25" font-size="8.0" textLength="31.1" lengthAdjust="spacingAndGlyphs">Colorado</text>
<text x="173.6" y="226.8" fill="#12300c" stroke="#12300c" stroke-width="0.25" font-size="8.0" textLength="41.5" lengthAdjust="spacingAndGlyphs">New Mexico</text>
<text x="268.6" y="176.0" fill="#c2f3d0" stroke="#c2f3d0" stroke-width="0.25" font-size="8.0" textLength="22.9" lengthAdjust="spacingAndGlyphs">Kansas</text>
<text x="326.8" y="176.0" fill="#12300c" stroke="#12300c" stroke-width="0.25" font-size="8.0" textLength="28.4" lengthAdjust="spacingAndGlyphs">Missouri</text>
<text x="280.5" y="216.4" fill="#12300c" stroke="#12300c" stroke-width="0.25" font-size="8.0" textLength="34.7" lengthAdjust="spacingAndGlyphs">Oklahoma</text>
<text x="331.7" y="223.2" fill="#c2f3d0" stroke="#c2f3d0" stroke-width="0.25" font-size="8.0" textLength="29.5" lengthAdjust="spacingAndGlyphs">Arkansas</text>
<text x="362.0" y="247.3" fill="#c2f3d0" stroke="#c2f3d0" stroke-width="0.25" font-size="6.8" textLength="27.5" lengthAdjust="spacingAndGlyphs">Mississippi</text>
<text x="394.2" y="247.8" fill="#12300c" stroke="#12300c" stroke-width="0.25" font-size="8.0" textLength="29.6" lengthAdjust="spacingAndGlyphs">Alabama</text>
<text x="433.6" y="236.8" fill="#c2f3d0" stroke="#c2f3d0" stroke-width="0.25" font-size="8.0" textLength="24.0" lengthAdjust="spacingAndGlyphs">Georgia</text>
<text x="332.1" y="263.2" fill="#c2f3d0" stroke="#c2f3d0" stroke-width="0.25" font-size="6.8" textLength="27.1" lengthAdjust="spacingAndGlyphs">Louisiana</text>
<text x="465.7" y="294.0" fill="#12300c" stroke="#12300c" stroke-width="0.25" font-size="8.0" textLength="19.1" lengthAdjust="spacingAndGlyphs">Florida</text>
<text x="258.7" y="270.0" fill="#12300c" stroke="#12300c" stroke-width="0.25" font-size="8.0" textLength="17.6" lengthAdjust="spacingAndGlyphs">Texas</text>
<text x="108.9" y="322.1" fill="#333" stroke="#333" stroke-width="0.25" font-size="8.0" textLength="22.2" lengthAdjust="spacingAndGlyphs">Hawaii</text>
<text x="174.7" y="374.3" fill="#c2f3d0" stroke="#c2f3d0" stroke-width="0.25" font-size="8.0" textLength="21.3" lengthAdjust="spacingAndGlyphs">Alaska</text>
<text x="552.3" y="83.7" font-size="6.8" textLength="43.8" lengthAdjust="spacingAndGlyphs"><tspan fill="#666">Massachu</tspan><tspan fill="#222">setts</tspan></text></g>
</svg>
<div style="position:absolute;left:479.5px;top:355px;width:105.5px;height:101px;background:#b6e7a2;"></div>
<div style="position:absolute;left:479.5px;top:355px;width:105.5px;height:24.5px;background:#a7d486;"></div>
<div style="position:absolute;left:479.5px;top:381.3px;width:105.5px;height:23.5px;background:#6ab840;"></div>
<div style="position:absolute;left:479.5px;top:407px;width:105.5px;height:23.5px;background:#0b9848;"></div>
<div style="position:absolute;left:479.5px;top:432px;width:105.5px;height:24px;background:#095234;"></div>
<svg width="600" height="482" style="position:absolute;left:0;top:0">
<g font-family="Liberation Sans, sans-serif" font-size="12.4" fill="#1e1e1e" stroke="#1e1e1e" stroke-width="0.3" text-anchor="end">
<text x="469.3" y="371.3" textLength="52.6" lengthAdjust="spacingAndGlyphs">Very Low</text>
<text x="467.7" y="397.3" textLength="23.4" lengthAdjust="spacingAndGlyphs">Low</text>
<text x="467.9" y="421.1" textLength="27.2" lengthAdjust="spacingAndGlyphs">High</text>
<text x="470.6" y="446.9" textLength="56.3" lengthAdjust="spacingAndGlyphs">Very High</text>
</g>
<g font-family="Liberation Sans, sans-serif" font-size="12.4" stroke-width="0.25">
<text x="507" y="372.7" fill="#16300e" stroke="#16300e" textLength="55" lengthAdjust="spacingAndGlyphs">40%-44%</text>
<text x="507" y="398" fill="#16300e" stroke="#16300e" textLength="55" lengthAdjust="spacingAndGlyphs">45%-49%</text>
<text x="507.5" y="423.4" fill="#a4f0bc" stroke="#a4f0bc" textLength="54" lengthAdjust="spacingAndGlyphs">50%-54%</text>
<text x="507.2" y="447.7" fill="#a4e8c0" stroke="#a4e8c0" textLength="54.3" lengthAdjust="spacingAndGlyphs">55%-65%</text>
</g>
<text x="343.5" y="470.6" font-family="Liberation Sans, sans-serif" font-size="10" fill="#333" stroke="#333" stroke-width="0.15" textLength="243.5" lengthAdjust="spacingAndGlyphs">* % of state's smartphone app traffic from iPhones</text>
</svg>
</body></html>
